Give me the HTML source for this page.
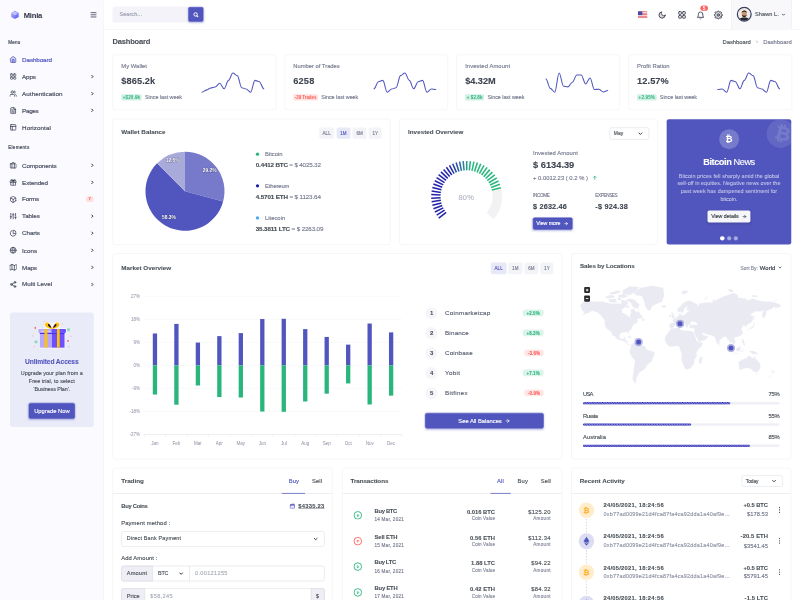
<!DOCTYPE html>
<html lang="en"><head><meta charset="utf-8"><title>Dashboard | Minia - Admin &amp; Dashboard Template</title>
<style>
html,body{margin:0;padding:0;background:#fff;overflow:hidden;width:800px;height:600px}
body{font-family:"Liberation Sans",sans-serif;color:#495057}
#app{position:absolute;left:0;top:0;width:1920px;height:1440px;transform:scale(.4166667);transform-origin:0 0;overflow:hidden;background:#fff}
.b{position:absolute;display:block}
.t{position:absolute;white-space:nowrap;letter-spacing:.2px;-webkit-text-stroke:.3px currentColor}
.sh{box-shadow:0 2px 5px 0 rgba(81,86,190,.38)}
</style></head><body><div id="app">
<div class="b" style="left:0px;top:0px;width:249.36px;height:1440px;background:#fbfaff;border-right:1px solid #e9e9ef;box-sizing:border-box"></div>
<svg class="b" style="left:25.2px;top:25.2px;" width="21.6" height="21.84" viewBox="0 0 24 24">
<defs><linearGradient id="lg" x1="0" y1="0" x2="1" y2="1"><stop offset="0" stop-color="#b7b9ff"/><stop offset="1" stop-color="#5255f4"/></linearGradient></defs>
<polygon points="12,1 22,6.5 22,17.5 12,23 2,17.5 2,6.5" fill="url(#lg)"/>
<polygon points="12,3.2 20,7.600 12,12.5 4,7.600" fill="#cfd0ff" opacity=".85"/>
</svg>
<div class="t" style="top:24.14px;left:57px;font-size:18.24px;line-height:23.71px;color:#2c3142;font-weight:700;-webkit-text-stroke:.22px currentColor;letter-spacing:-0.491px;-webkit-text-stroke:0;">Minia</div>
<svg class="b" style="left:216.96px;top:27.84px;" width="14.88" height="14.88" viewBox="0 0 6.200 6.200"><g stroke="#555b6d" stroke-width="0.95"><line x1="0" y1="1" x2="6.2" y2="1"/><line x1="0" y1="3.15" x2="6.2" y2="3.15"/><line x1="0" y1="5.3" x2="6.2" y2="5.3"/></g></svg>
<div class="t" style="top:93.62px;left:19.8px;font-size:11.04px;line-height:14.35px;color:#444a5c;letter-spacing:0.476px;-webkit-text-stroke:.4px currentColor;">Menu</div>
<div class="t" style="top:347.30px;left:19.8px;font-size:11.04px;line-height:14.35px;color:#444a5c;letter-spacing:0.607px;-webkit-text-stroke:.4px currentColor;">Elements</div>
<svg class="b" style="left:22.56px;top:134.16px" width="17.28" height="17.28" viewBox="0 0 24 24" fill="#5156be" fill-opacity=".2" stroke="#5156be" stroke-width="2.6" stroke-linecap="round" stroke-linejoin="round"><path d="M3 9l9-7 9 7v11a2 2 0 0 1-2 2H5a2 2 0 0 1-2-2z"/><polyline points="9 22 9 12 15 12 15 22"/></svg>
<div class="t" style="top:132.81px;left:53.04px;font-size:15.00px;line-height:19.50px;color:#5156be;letter-spacing:-0.207px;-webkit-text-stroke:.45px currentColor;">Dashboard</div>
<svg class="b" style="left:22.56px;top:174.96px" width="17.28" height="17.28" viewBox="0 0 24 24" fill="none" fill-opacity=".2" stroke="#3f4556" stroke-width="2.6" stroke-linecap="round" stroke-linejoin="round"><rect x="3" y="3" width="7.6" height="7.6" rx="2.2"/><rect x="13.4" y="3" width="7.6" height="7.6" rx="2.2"/><rect x="13.4" y="13.4" width="7.6" height="7.6" rx="2.2"/><rect x="3" y="13.4" width="7.6" height="7.6" rx="2.2"/></svg>
<div class="t" style="top:173.61px;left:53.04px;font-size:15.00px;line-height:19.50px;color:#4a5062;letter-spacing:-0.388px;-webkit-text-stroke:.45px currentColor;">Apps</div>
<svg class="b" style="left:216px;top:177.84px" width="11.52" height="11.52" viewBox="0 0 24 24" fill="none" fill-opacity=".2" stroke="#2f3442" stroke-width="5" stroke-linecap="round" stroke-linejoin="round"><polyline points="9 18 15 12 9 6"/></svg>
<svg class="b" style="left:22.56px;top:216px" width="17.28" height="17.28" viewBox="0 0 24 24" fill="none" fill-opacity=".2" stroke="#3f4556" stroke-width="2.6" stroke-linecap="round" stroke-linejoin="round"><path d="M17 21v-2a4 4 0 0 0-4-4H5a4 4 0 0 0-4 4v2"/><circle cx="9" cy="7" r="4"/><path d="M23 21v-2a4 4 0 0 0-3-3.87"/><path d="M16 3.13a4 4 0 0 1 0 7.75"/></svg>
<div class="t" style="top:214.65px;left:53.04px;font-size:15.00px;line-height:19.50px;color:#4a5062;letter-spacing:0.152px;-webkit-text-stroke:.45px currentColor;">Authentication</div>
<svg class="b" style="left:216px;top:218.88px" width="11.52" height="11.52" viewBox="0 0 24 24" fill="none" fill-opacity=".2" stroke="#2f3442" stroke-width="5" stroke-linecap="round" stroke-linejoin="round"><polyline points="9 18 15 12 9 6"/></svg>
<svg class="b" style="left:22.56px;top:256.56px" width="17.28" height="17.28" viewBox="0 0 24 24" fill="none" fill-opacity=".2" stroke="#3f4556" stroke-width="2.6" stroke-linecap="round" stroke-linejoin="round"><path d="M14 2H6a2 2 0 0 0-2 2v16a2 2 0 0 0 2 2h12a2 2 0 0 0 2-2V8z"/><polyline points="14 2 14 8 20 8"/><line x1="16" y1="13" x2="8" y2="13"/><line x1="16" y1="17" x2="8" y2="17"/><polyline points="10 9 9 9 8 9"/></svg>
<div class="t" style="top:255.21px;left:53.04px;font-size:15.00px;line-height:19.50px;color:#4a5062;letter-spacing:-0.731px;-webkit-text-stroke:.45px currentColor;">Pages</div>
<svg class="b" style="left:216px;top:259.44px" width="11.52" height="11.52" viewBox="0 0 24 24" fill="none" fill-opacity=".2" stroke="#2f3442" stroke-width="5" stroke-linecap="round" stroke-linejoin="round"><polyline points="9 18 15 12 9 6"/></svg>
<svg class="b" style="left:22.56px;top:297.36px" width="17.28" height="17.28" viewBox="0 0 24 24" fill="none" fill-opacity=".2" stroke="#3f4556" stroke-width="2.6" stroke-linecap="round" stroke-linejoin="round"><rect x="3" y="3" width="18" height="18" rx="2" ry="2"/><line x1="3" y1="9" x2="21" y2="9"/><line x1="9" y1="21" x2="9" y2="9"/></svg>
<div class="t" style="top:296.01px;left:53.04px;font-size:15.00px;line-height:19.50px;color:#4a5062;letter-spacing:0.159px;-webkit-text-stroke:.45px currentColor;">Horizontal</div>
<svg class="b" style="left:22.56px;top:388.32px" width="17.28" height="17.28" viewBox="0 0 24 24" fill="none" fill-opacity=".2" stroke="#3f4556" stroke-width="2.6" stroke-linecap="round" stroke-linejoin="round"><rect x="2" y="7" width="20" height="14" rx="2" ry="2"/><path d="M16 21V5a2 2 0 0 0-2-2h-4a2 2 0 0 0-2 2v16"/></svg>
<div class="t" style="top:386.97px;left:53.04px;font-size:15.00px;line-height:19.50px;color:#4a5062;letter-spacing:-0.225px;-webkit-text-stroke:.45px currentColor;">Components</div>
<svg class="b" style="left:216px;top:391.2px" width="11.52" height="11.52" viewBox="0 0 24 24" fill="none" fill-opacity=".2" stroke="#2f3442" stroke-width="5" stroke-linecap="round" stroke-linejoin="round"><polyline points="9 18 15 12 9 6"/></svg>
<svg class="b" style="left:22.56px;top:429.12px" width="17.28" height="17.28" viewBox="0 0 24 24" fill="none" fill-opacity=".2" stroke="#3f4556" stroke-width="2.6" stroke-linecap="round" stroke-linejoin="round"><polyline points="20 12 20 22 4 22 4 12"/><rect x="2" y="7" width="20" height="5"/><line x1="12" y1="22" x2="12" y2="7"/><path d="M12 7H7.5a2.5 2.5 0 0 1 0-5C11 2 12 7 12 7z"/><path d="M12 7h4.5a2.5 2.5 0 0 0 0-5C13 2 12 7 12 7z"/></svg>
<div class="t" style="top:427.77px;left:53.04px;font-size:15.00px;line-height:19.50px;color:#4a5062;letter-spacing:-0.183px;-webkit-text-stroke:.45px currentColor;">Extended</div>
<svg class="b" style="left:216px;top:432px" width="11.52" height="11.52" viewBox="0 0 24 24" fill="none" fill-opacity=".2" stroke="#2f3442" stroke-width="5" stroke-linecap="round" stroke-linejoin="round"><polyline points="9 18 15 12 9 6"/></svg>
<svg class="b" style="left:22.56px;top:469.68px" width="17.28" height="17.28" viewBox="0 0 24 24" fill="none" fill-opacity=".2" stroke="#3f4556" stroke-width="2.6" stroke-linecap="round" stroke-linejoin="round"><path d="M21 16V8a2 2 0 0 0-1-1.73l-7-4a2 2 0 0 0-2 0l-7 4A2 2 0 0 0 3 8v8a2 2 0 0 0 1 1.73l7 4a2 2 0 0 0 2 0l7-4A2 2 0 0 0 21 16z"/><polyline points="3.27 6.96 12 12.01 20.73 6.96"/><line x1="12" y1="22.08" x2="12" y2="12"/></svg>
<div class="t" style="top:468.33px;left:53.04px;font-size:15.00px;line-height:19.50px;color:#4a5062;letter-spacing:-0.435px;-webkit-text-stroke:.45px currentColor;">Forms</div>
<div class="b" style="left:205.92px;top:471.36px;width:19.2px;height:13.92px;background:#ffe0df;border-radius:20px"></div>
<div class="t" style="top:471.46px;left:215.52px;transform:translateX(-50%);font-size:10.56px;line-height:13.73px;color:#fd625e;font-weight:700;-webkit-text-stroke:.22px currentColor;">7</div>
<svg class="b" style="left:22.56px;top:510.48px" width="17.28" height="17.28" viewBox="0 0 24 24" fill="none" fill-opacity=".2" stroke="#3f4556" stroke-width="2.6" stroke-linecap="round" stroke-linejoin="round"><line x1="4" y1="21" x2="4" y2="14"/><line x1="4" y1="10" x2="4" y2="3"/><line x1="12" y1="21" x2="12" y2="12"/><line x1="12" y1="8" x2="12" y2="3"/><line x1="20" y1="21" x2="20" y2="16"/><line x1="20" y1="12" x2="20" y2="3"/><line x1="1" y1="14" x2="7" y2="14"/><line x1="9" y1="8" x2="15" y2="8"/><line x1="17" y1="16" x2="23" y2="16"/></svg>
<div class="t" style="top:509.13px;left:53.04px;font-size:15.00px;line-height:19.50px;color:#4a5062;letter-spacing:-0.187px;-webkit-text-stroke:.45px currentColor;">Tables</div>
<svg class="b" style="left:216px;top:513.36px" width="11.52" height="11.52" viewBox="0 0 24 24" fill="none" fill-opacity=".2" stroke="#2f3442" stroke-width="5" stroke-linecap="round" stroke-linejoin="round"><polyline points="9 18 15 12 9 6"/></svg>
<svg class="b" style="left:22.56px;top:551.28px" width="17.28" height="17.28" viewBox="0 0 24 24" fill="none" fill-opacity=".2" stroke="#3f4556" stroke-width="2.6" stroke-linecap="round" stroke-linejoin="round"><path d="M21.21 15.89A10 10 0 1 1 8 2.83"/><path d="M22 12A10 10 0 0 0 12 2v10z"/></svg>
<div class="t" style="top:549.93px;left:53.04px;font-size:15.00px;line-height:19.50px;color:#4a5062;letter-spacing:-0.243px;-webkit-text-stroke:.45px currentColor;">Charts</div>
<svg class="b" style="left:216px;top:554.16px" width="11.52" height="11.52" viewBox="0 0 24 24" fill="none" fill-opacity=".2" stroke="#2f3442" stroke-width="5" stroke-linecap="round" stroke-linejoin="round"><polyline points="9 18 15 12 9 6"/></svg>
<svg class="b" style="left:22.56px;top:592.08px" width="17.28" height="17.28" viewBox="0 0 24 24" fill="none" fill-opacity=".2" stroke="#3f4556" stroke-width="2.6" stroke-linecap="round" stroke-linejoin="round"><circle cx="12" cy="12" r="10"/><line x1="2" y1="12" x2="22" y2="12"/><path d="M12 2a15.3 15.3 0 0 1 4 10 15.3 15.3 0 0 1-4 10 15.3 15.3 0 0 1-4-10 15.3 15.3 0 0 1 4-10z"/></svg>
<div class="t" style="top:590.73px;left:53.04px;font-size:15.00px;line-height:19.50px;color:#4a5062;letter-spacing:0.030px;-webkit-text-stroke:.45px currentColor;">Icons</div>
<svg class="b" style="left:216px;top:594.96px" width="11.52" height="11.52" viewBox="0 0 24 24" fill="none" fill-opacity=".2" stroke="#2f3442" stroke-width="5" stroke-linecap="round" stroke-linejoin="round"><polyline points="9 18 15 12 9 6"/></svg>
<svg class="b" style="left:22.56px;top:632.88px" width="17.28" height="17.28" viewBox="0 0 24 24" fill="none" fill-opacity=".2" stroke="#3f4556" stroke-width="2.6" stroke-linecap="round" stroke-linejoin="round"><polygon points="1 6 1 22 8 18 16 22 23 18 23 2 16 6 8 2 1 6"/><line x1="8" y1="2" x2="8" y2="18"/><line x1="16" y1="6" x2="16" y2="22"/></svg>
<div class="t" style="top:631.53px;left:53.04px;font-size:15.00px;line-height:19.50px;color:#4a5062;letter-spacing:-0.410px;-webkit-text-stroke:.45px currentColor;">Maps</div>
<svg class="b" style="left:216px;top:635.76px" width="11.52" height="11.52" viewBox="0 0 24 24" fill="none" fill-opacity=".2" stroke="#2f3442" stroke-width="5" stroke-linecap="round" stroke-linejoin="round"><polyline points="9 18 15 12 9 6"/></svg>
<svg class="b" style="left:22.56px;top:673.68px" width="17.28" height="17.28" viewBox="0 0 24 24" fill="none" fill-opacity=".2" stroke="#3f4556" stroke-width="2.6" stroke-linecap="round" stroke-linejoin="round"><circle cx="18" cy="5" r="3"/><circle cx="6" cy="12" r="3"/><circle cx="18" cy="19" r="3"/><line x1="8.59" y1="13.51" x2="15.42" y2="17.49"/><line x1="15.41" y1="6.51" x2="8.59" y2="10.49"/></svg>
<div class="t" style="top:672.33px;left:53.04px;font-size:15.00px;line-height:19.50px;color:#4a5062;letter-spacing:0.027px;-webkit-text-stroke:.45px currentColor;">Multi Level</div>
<svg class="b" style="left:216px;top:676.56px" width="11.52" height="11.52" viewBox="0 0 24 24" fill="none" fill-opacity=".2" stroke="#2f3442" stroke-width="5" stroke-linecap="round" stroke-linejoin="round"><polyline points="9 18 15 12 9 6"/></svg>
<div class="b" style="left:24px;top:750px;width:201px;height:274.8px;background:#eaebf8;border-radius:6px"></div>
<svg class="b" style="left:60px;top:756px;" width="132" height="96" viewBox="0 0 800 582">
<g fill="#f7f6ff" stroke="#f7f6ff" stroke-width="22" stroke-linejoin="round"><rect x="195" y="205" width="400" height="55"/><rect x="215" y="255" width="360" height="220"/><ellipse cx="340" cy="150" rx="48" ry="42"/><ellipse cx="455" cy="150" rx="48" ry="42"/></g>
<circle cx="150" cy="188" r="13" fill="#f25c66"/><circle cx="625" cy="378" r="13" fill="#f25c66"/>
<circle cx="160" cy="390" r="24" fill="#8edcb9"/><circle cx="632" cy="213" r="24" fill="#8edcb9"/>
<g fill="#f6b8c0"><circle cx="280" cy="93" r="9"/><circle cx="540" cy="130" r="11"/><circle cx="115" cy="305" r="11"/><circle cx="672" cy="310" r="10"/><circle cx="130" cy="463" r="11"/><circle cx="638" cy="462" r="11"/></g>
<rect x="215" y="255" width="175" height="220" fill="#b7a8fc"/>
<rect x="390" y="255" width="185" height="220" fill="#6d4fff"/>
<rect x="215" y="258" width="360" height="18" fill="#4a2df2"/>
<rect x="195" y="205" width="190" height="55" rx="6" fill="#b3a4fb"/>
<rect x="385" y="205" width="210" height="55" rx="6" fill="#6a4dff"/>
<rect x="225" y="225" width="150" height="22" fill="#cfc6fd"/>
<rect x="285" y="205" width="40" height="270" fill="#ffc400"/>
<rect x="465" y="205" width="40" height="270" fill="#ffc400"/>
<path d="M395 205 C330 190 280 170 292 130 C305 92 365 100 395 205 Z M395 205 C460 190 510 170 498 130 C485 92 425 100 395 205 Z" fill="#ffc400"/>
<path d="M385 190 C350 170 325 150 335 133 C350 118 372 150 385 190 Z M407 190 C442 170 467 150 457 133 C442 118 420 150 407 190 Z" fill="#1a1446"/>
</svg>
<div class="t" style="top:858.35px;left:124.32px;transform:translateX(-50%);font-size:16.08px;line-height:20.90px;color:#5156be;font-weight:700;-webkit-text-stroke:.22px currentColor;letter-spacing:-0.316px;">Unlimited Access</div>
<div class="t" style="top:888.18px;left:124.32px;transform:translateX(-50%);font-size:13.01px;line-height:16.91px;color:#4a4f5c;letter-spacing:0.054px;">Upgrade your plan from a</div>
<div class="t" style="top:907.14px;left:124.32px;transform:translateX(-50%);font-size:13.01px;line-height:16.91px;color:#4a4f5c;letter-spacing:0.162px;">Free trial, to select</div>
<div class="t" style="top:925.86px;left:124.32px;transform:translateX(-50%);font-size:13.01px;line-height:16.91px;color:#4a4f5c;letter-spacing:-0.189px;">‘Business Plan’.</div>
<div class="b sh" style="left:69px;top:967.2px;width:111px;height:37.8px;background:#5156be;border:1px solid #4448b6;box-sizing:border-box;border-radius:5px"></div>
<div class="t" style="top:977.07px;left:124.56px;transform:translateX(-50%);font-size:13.99px;line-height:18.19px;color:#fff;letter-spacing:-0.032px;">Upgrade Now</div>
<div class="b" style="left:249.36px;top:0px;width:1670.64px;height:71.16px;background:#fff;border-bottom:1px solid #e9e9ef;box-sizing:border-box"></div>
<div class="b" style="left:270px;top:16.2px;width:186px;height:37.44px;background:#f3f3f9;border-radius:5px"></div>
<div class="t" style="top:25.82px;left:286.8px;font-size:13.44px;line-height:17.47px;color:#9a9db0;letter-spacing:0.024px;">Search...</div>
<div class="b sh" style="left:451.92px;top:17.28px;width:36px;height:35.16px;background:#5156be;border:1px solid #4347b4;box-sizing:border-box;border-radius:4px"></div>
<svg class="b" style="left:462.72px;top:28.08px;" width="14.4" height="14.4" viewBox="0 0 6.000 6.000"><circle cx="2.7" cy="2.8" r="1.7" fill="none" stroke="#fff" stroke-width="1"/><line x1="4" y1="4.1" x2="5.1" y2="5.2" stroke="#fff" stroke-width="1.1" stroke-linecap="round"/></svg>
<svg class="b" style="left:1531.2px;top:27.12px;" width="23.04" height="16.56" viewBox="0 0 9.600 6.900">
<rect width="9.6" height="6.9" fill="#fff"/>
<g fill="#e0464f"><rect y="0" width="9.6" height="0.77"/><rect y="1.53" width="9.6" height="0.77"/><rect y="3.07" width="9.6" height="0.77"/><rect y="4.6" width="9.6" height="0.77"/><rect y="6.13" width="9.6" height="0.77"/></g>
<rect width="4.4" height="3.84" fill="#3f4fa8"/>
</svg>
<svg class="b" style="left:1578.72px;top:25.92px" width="20.16" height="20.16" viewBox="0 0 24 24" fill="#3f4453" fill-opacity=".2" stroke="#3f4453" stroke-width="2.6" stroke-linecap="round" stroke-linejoin="round"><path d="M21 12.79A9 9 0 1 1 11.21 3 7 7 0 0 0 21 12.79z"/></svg>
<svg class="b" style="left:1626px;top:25.2px" width="21.6" height="21.6" viewBox="0 0 24 24" fill="#3f4453" fill-opacity=".2" stroke="#3f4453" stroke-width="2.4" stroke-linecap="round" stroke-linejoin="round"><rect x="3" y="3" width="7.6" height="7.6" rx="2.2"/><rect x="13.4" y="3" width="7.6" height="7.6" rx="2.2"/><rect x="13.4" y="13.4" width="7.6" height="7.6" rx="2.2"/><rect x="3" y="13.4" width="7.6" height="7.6" rx="2.2"/></svg>
<svg class="b" style="left:1670.64px;top:26.64px" width="20.64" height="20.64" viewBox="0 0 24 24" fill="none" fill-opacity=".2" stroke="#3f4453" stroke-width="2.5" stroke-linecap="round" stroke-linejoin="round"><path d="M18 8A6 6 0 0 0 6 8c0 7-3 9-3 9h18s-3-2-3-9"/><path d="M13.73 21a2 2 0 0 1-3.46 0"/></svg>
<div class="b" style="left:1680.96px;top:12.96px;width:18.48px;height:12.96px;background:#fd625e;border-radius:20px"></div>
<div class="t" style="top:12.23px;left:1690.08px;transform:translateX(-50%);font-size:11.28px;line-height:14.66px;color:#fff;font-weight:700;-webkit-text-stroke:.22px currentColor;-webkit-text-stroke:0;">5</div>
<svg class="b" style="left:1713.36px;top:24.96px" width="22.08" height="22.08" viewBox="0 0 24 24" fill="#3f4453" fill-opacity=".2" stroke="#3f4453" stroke-width="2.4" stroke-linecap="round" stroke-linejoin="round"><circle cx="12" cy="12" r="3"/><path d="M19.4 15a1.65 1.65 0 0 0 .33 1.82l.06.06a2 2 0 0 1 0 2.83 2 2 0 0 1-2.83 0l-.06-.06a1.65 1.65 0 0 0-1.82-.33 1.65 1.65 0 0 0-1 1.51V21a2 2 0 0 1-2 2 2 2 0 0 1-2-2v-.09A1.65 1.65 0 0 0 9 19.4a1.65 1.65 0 0 0-1.82.33l-.06.06a2 2 0 0 1-2.83 0 2 2 0 0 1 0-2.83l.06-.06a1.65 1.65 0 0 0 .33-1.82 1.65 1.65 0 0 0-1.51-1H3a2 2 0 0 1-2-2 2 2 0 0 1 2-2h.09A1.65 1.65 0 0 0 4.6 9a1.65 1.65 0 0 0-.33-1.82l-.06-.06a2 2 0 0 1 0-2.83 2 2 0 0 1 2.83 0l.06.06a1.65 1.65 0 0 0 1.82.33H9a1.65 1.65 0 0 0 1-1.51V3a2 2 0 0 1 2-2 2 2 0 0 1 2 2v.09a1.65 1.65 0 0 0 1 1.51 1.65 1.65 0 0 0 1.82-.33l.06-.06a2 2 0 0 1 2.83 0 2 2 0 0 1 0 2.83l-.06.06a1.65 1.65 0 0 0-.33 1.82V9a1.65 1.65 0 0 0 1.51 1H21a2 2 0 0 1 2 2 2 2 0 0 1-2 2h-.09a1.65 1.65 0 0 0-1.51 1z"/></svg>
<div class="b" style="left:1754.88px;top:0px;width:145.92px;height:71.16px;background:#f8f8fb;border-left:1px solid #e9e9ef;border-right:1px solid #e9e9ef;box-sizing:border-box"></div>
<svg class="b" style="left:1766.88px;top:14.64px;" width="38.4" height="38.4" viewBox="0 0 16.000 16.000">
<defs><clipPath id="av"><circle cx="8" cy="8" r="6.5"/></clipPath></defs>
<circle cx="8" cy="8" r="7.9" fill="#fff"/>
<g clip-path="url(#av)"><rect width="16" height="16" fill="#f1ede4"/>
<path d="M2 16 C2.5 11.5 5.5 11.300 8 11.300 C10.5 11.300 13.5 11.5 14 16 Z" fill="#23262d"/>
<ellipse cx="8" cy="7.4" rx="2.5" ry="3.2" fill="#c9987c"/>
<path d="M5.3 6.800 C5.1 3.300 10.9 3.300 10.7 6.800 C10.2 5.2 5.800 5.2 5.3 6.800 Z" fill="#1f1a18"/>
<path d="M5.600 8.300 C5.800 11.800 10.200 11.800 10.4 8.300 C9.700 9.900 6.300 9.900 5.600 8.300 Z" fill="#2b211d"/></g>
<circle cx="8" cy="8" r="6.9" fill="none" stroke="#383d62" stroke-width="1.25"/>
</svg>
<div class="t" style="top:26.06px;left:1812px;font-size:13.44px;line-height:17.47px;color:#495057;letter-spacing:0.135px;">Shawn L.</div>
<svg class="b" style="left:1875.36px;top:29.76px" width="10.56" height="10.56" viewBox="0 0 24 24" fill="none" fill-opacity=".2" stroke="#3a3f4e" stroke-width="4.4" stroke-linecap="round" stroke-linejoin="round"><polyline points="6 9 12 15 18 9"/></svg>
<div class="t" style="top:89.10px;left:270px;font-size:18.00px;line-height:23.40px;color:#495057;font-weight:700;-webkit-text-stroke:.22px currentColor;letter-spacing:-0.420px;">Dashboard</div>
<div class="t" style="top:90.75px;left:1734px;font-size:13.99px;line-height:18.19px;color:#495057;letter-spacing:-0.059px;">Dashboard</div>
<svg class="b" style="left:1813.2px;top:96px" width="8.64" height="8.64" viewBox="0 0 24 24" fill="none" fill-opacity=".2" stroke="#74788d" stroke-width="3" stroke-linecap="round" stroke-linejoin="round"><polyline points="9 18 15 12 9 6"/></svg>
<div class="t" style="top:90.75px;left:1831.92px;font-size:13.99px;line-height:18.19px;color:#74788d;letter-spacing:-0.033px;">Dashboard</div>
<div class="b" style="left:270px;top:130.8px;width:392.64px;height:133.2px;background:#fff;border:1px solid #e9e9ef;border-radius:6px;box-sizing:border-box;"></div>
<div class="t" style="top:150.03px;left:291px;font-size:13.99px;line-height:18.19px;color:#74788d;letter-spacing:0.114px;">My Wallet</div>
<div class="t" style="top:179.81px;left:291px;font-size:22.08px;line-height:28.70px;color:#3d4350;font-weight:700;-webkit-text-stroke:.22px currentColor;letter-spacing:0.255px;">$865.2k</div>
<div class="b" style="left:291px;top:225.84px;width:49.2px;height:15.24px;background:#d4f0e5;border-radius:3px"></div>
<div class="t" style="top:226.50px;left:315.6px;transform:translateX(-50%);font-size:10.80px;line-height:14.04px;color:#2ab57d;font-weight:700;-webkit-text-stroke:.22px currentColor;letter-spacing:0.346px;-webkit-text-stroke:0;">+$20.9k</div>
<div class="t" style="top:224.86px;left:348.12px;font-size:12.96px;line-height:16.85px;color:#74788d;letter-spacing:-0.083px;">Since last week</div>
<svg class="b" style="left:0px;top:0px;" width="1920" height="288" viewBox="0 0 800.000 120.000"><path d="M202.00 92.20 C203.54 92.20 204.87 90.10 206.41 90.10 C207.96 90.10 209.28 87.99 210.83 87.99 C212.37 87.99 213.70 86.94 215.24 86.94 C216.79 86.94 218.11 83.26 219.66 83.26 C221.20 83.26 222.53 88.78 224.07 88.78 C225.62 88.78 226.94 80.36 228.49 80.36 C230.03 80.36 231.35 73.00 232.90 73.00 C234.44 73.00 235.77 75.63 237.31 75.63 C238.86 75.63 240.18 87.73 241.73 87.73 C243.27 87.73 244.60 89.04 246.14 89.04 C247.69 89.04 249.01 92.20 250.56 92.20 C252.10 92.20 253.43 80.36 254.97 80.36 C256.52 80.36 257.84 81.68 259.39 81.68 C260.93 81.68 262.25 88.78 263.80 88.78" fill="none" stroke="#5156be" stroke-width="1.05" stroke-linejoin="round" stroke-linecap="round"/></svg>
<div class="b" style="left:682.8px;top:130.8px;width:392.64px;height:133.2px;background:#fff;border:1px solid #e9e9ef;border-radius:6px;box-sizing:border-box;"></div>
<div class="t" style="top:150.03px;left:703.8px;font-size:13.99px;line-height:18.19px;color:#74788d;letter-spacing:-0.024px;">Number of Trades</div>
<div class="t" style="top:179.81px;left:703.8px;font-size:22.08px;line-height:28.70px;color:#3d4350;font-weight:700;-webkit-text-stroke:.22px currentColor;letter-spacing:0.440px;">6258</div>
<div class="b" style="left:703.8px;top:225.84px;width:59.28px;height:15.24px;background:#ffe0df;border-radius:3px"></div>
<div class="t" style="top:226.50px;left:733.44px;transform:translateX(-50%);font-size:10.80px;line-height:14.04px;color:#fd625e;font-weight:700;-webkit-text-stroke:.22px currentColor;letter-spacing:-0.159px;-webkit-text-stroke:0;">-29 Trades</div>
<div class="t" style="top:224.86px;left:771px;font-size:12.96px;line-height:16.85px;color:#74788d;letter-spacing:-0.083px;">Since last week</div>
<svg class="b" style="left:0px;top:0px;" width="1920" height="288" viewBox="0 0 800.000 120.000"><path d="M374.00 88.78 C375.55 88.78 376.87 81.68 378.41 81.68 C379.96 81.68 381.28 80.36 382.83 80.36 C384.37 80.36 385.70 92.20 387.24 92.20 C388.79 92.20 390.11 89.04 391.66 89.04 C393.20 89.04 394.53 87.73 396.07 87.73 C397.62 87.73 398.94 75.63 400.49 75.63 C402.03 75.63 403.35 73.00 404.90 73.00 C406.44 73.00 407.77 80.36 409.31 80.36 C410.86 80.36 412.18 88.78 413.73 88.78 C415.27 88.78 416.60 81.68 418.14 81.68 C419.69 81.68 421.01 80.36 422.56 80.36 C424.10 80.36 425.43 92.20 426.97 92.20 C428.52 92.20 429.84 89.04 431.39 89.04 C432.93 89.04 434.25 89.57 435.80 89.57" fill="none" stroke="#5156be" stroke-width="1.05" stroke-linejoin="round" stroke-linecap="round"/></svg>
<div class="b" style="left:1095.36px;top:130.8px;width:392.64px;height:133.2px;background:#fff;border:1px solid #e9e9ef;border-radius:6px;box-sizing:border-box;"></div>
<div class="t" style="top:150.03px;left:1116.36px;font-size:13.99px;line-height:18.19px;color:#74788d;letter-spacing:0.251px;">Invested Amount</div>
<div class="t" style="top:179.81px;left:1116.36px;font-size:22.08px;line-height:28.70px;color:#3d4350;font-weight:700;-webkit-text-stroke:.22px currentColor;letter-spacing:-0.075px;">$4.32M</div>
<div class="b" style="left:1116.36px;top:225.84px;width:45.6px;height:15.24px;background:#d4f0e5;border-radius:3px"></div>
<div class="t" style="top:226.50px;left:1139.16px;transform:translateX(-50%);font-size:10.80px;line-height:14.04px;color:#2ab57d;font-weight:700;-webkit-text-stroke:.22px currentColor;letter-spacing:0.261px;-webkit-text-stroke:0;">+ $2.8k</div>
<div class="t" style="top:224.86px;left:1169.88px;font-size:12.96px;line-height:16.85px;color:#74788d;letter-spacing:-0.083px;">Since last week</div>
<svg class="b" style="left:0px;top:0px;" width="1920" height="288" viewBox="0 0 800.000 120.000"><path d="M545.90 78.91 C547.44 78.91 548.77 88.36 550.31 88.36 C551.86 88.36 553.18 92.20 554.73 92.20 C556.27 92.20 557.60 73.00 559.14 73.00 C560.69 73.00 562.01 86.29 563.56 86.29 C565.10 86.29 566.43 86.88 567.97 86.88 C569.52 86.88 570.84 82.16 572.39 82.16 C573.93 82.16 575.25 75.07 576.80 75.07 C578.34 75.07 579.67 75.07 581.21 75.07 C582.76 75.07 584.08 83.93 585.63 83.93 C587.17 83.93 588.50 78.02 590.04 78.02 C591.59 78.02 592.91 89.54 594.46 89.54 C596.00 89.54 597.33 89.25 598.87 89.25 C600.42 89.25 601.74 91.90 603.29 91.90 C604.83 91.90 606.15 90.43 607.70 90.43" fill="none" stroke="#5156be" stroke-width="1.05" stroke-linejoin="round" stroke-linecap="round"/></svg>
<div class="b" style="left:1507.92px;top:130.8px;width:392.64px;height:133.2px;background:#fff;border:1px solid #e9e9ef;border-radius:6px;box-sizing:border-box;"></div>
<div class="t" style="top:150.03px;left:1528.92px;font-size:13.99px;line-height:18.19px;color:#74788d;letter-spacing:0.078px;">Profit Ration</div>
<div class="t" style="top:179.81px;left:1528.92px;font-size:22.08px;line-height:28.70px;color:#3d4350;font-weight:700;-webkit-text-stroke:.22px currentColor;letter-spacing:0.239px;">12.57%</div>
<div class="b" style="left:1528.92px;top:225.84px;width:46.8px;height:15.24px;background:#d4f0e5;border-radius:3px"></div>
<div class="t" style="top:226.50px;left:1552.32px;transform:translateX(-50%);font-size:10.80px;line-height:14.04px;color:#2ab57d;font-weight:700;-webkit-text-stroke:.22px currentColor;letter-spacing:0.405px;-webkit-text-stroke:0;">+2.95%</div>
<div class="t" style="top:224.86px;left:1583.64px;font-size:12.96px;line-height:16.85px;color:#74788d;letter-spacing:-0.083px;">Since last week</div>
<svg class="b" style="left:0px;top:0px;" width="1920" height="288" viewBox="0 0 800.000 120.000"><path d="M717.80 89.57 C719.34 89.57 720.67 89.04 722.21 89.04 C723.76 89.04 725.08 92.20 726.63 92.20 C728.17 92.20 729.50 80.36 731.04 80.36 C732.59 80.36 733.91 81.68 735.46 81.68 C737.00 81.68 738.33 88.78 739.87 88.78 C741.42 88.78 742.74 80.36 744.29 80.36 C745.83 80.36 747.15 73.00 748.70 73.00 C750.24 73.00 751.57 75.63 753.11 75.63 C754.66 75.63 755.98 87.73 757.53 87.73 C759.07 87.73 760.40 89.04 761.94 89.04 C763.49 89.04 764.81 92.20 766.36 92.20 C767.90 92.20 769.23 80.36 770.77 80.36 C772.32 80.36 773.64 81.68 775.19 81.68 C776.73 81.68 778.05 88.78 779.60 88.78" fill="none" stroke="#5156be" stroke-width="1.05" stroke-linejoin="round" stroke-linecap="round"/></svg>
<div class="b" style="left:270px;top:285px;width:667.2px;height:303px;background:#fff;border:1px solid #e9e9ef;border-radius:6px;box-sizing:border-box;"></div>
<div class="t" style="top:307.05px;left:291px;font-size:15.00px;line-height:19.50px;color:#495057;font-weight:700;-webkit-text-stroke:.22px currentColor;letter-spacing:0.072px;">Wallet Balance</div>
<div class="b" style="left:765.6px;top:306px;width:36.72px;height:27.12px;background:#f3f4f8;border-radius:4px"></div>
<div class="t" style="top:312.78px;left:783.96px;transform:translateX(-50%);font-size:10.80px;line-height:14.04px;color:#74788d;">ALL</div>
<div class="b" style="left:807.6px;top:306px;width:33.12px;height:27.12px;background:#e8e9f7;border-radius:4px"></div>
<div class="t" style="top:312.78px;left:824.16px;transform:translateX(-50%);font-size:10.80px;line-height:14.04px;color:#5156be;">1M</div>
<div class="b" style="left:846.48px;top:306px;width:33.84px;height:27.12px;background:#f3f4f8;border-radius:4px"></div>
<div class="t" style="top:312.78px;left:863.4px;transform:translateX(-50%);font-size:10.80px;line-height:14.04px;color:#74788d;">6M</div>
<div class="b" style="left:885.12px;top:306px;width:31.2px;height:27.12px;background:#f3f4f8;border-radius:4px"></div>
<div class="t" style="top:312.78px;left:900.72px;transform:translateX(-50%);font-size:10.80px;line-height:14.04px;color:#74788d;">1Y</div>
<svg class="b" style="left:0px;top:0px;" width="960" height="600" viewBox="0 0 400.000 250.000"><path d="M185.00 191.25 L185.00 151.75 A39.50 39.50 0 0 1 223.13 201.55 Z" fill="#777aca"/><path d="M185.00 191.25 L223.13 201.55 A39.50 39.50 0 1 1 157.07 163.32 Z" fill="#5156be"/><path d="M185.00 191.25 L157.07 163.32 A39.50 39.50 0 0 1 185.00 151.75 Z" fill="#a8aada"/><g font-family="Liberation Sans,sans-serif" font-weight="700" font-size="4.9" fill="#fff" text-anchor="middle" stroke="rgba(20,20,60,.55)" stroke-width=".55" paint-order="stroke" stroke-linejoin="round"><text x="172.6" y="162.3">12.5%</text><text x="209.6" y="171.8">29.2%</text><text x="168.9" y="218.8">58.3%</text></g></svg>
<div class="b" style="left:613.92px;top:366px;width:8.16px;height:8.16px;background:#2ab57d;border-radius:50%"></div>
<div class="t" style="top:360.99px;left:636px;font-size:13.99px;line-height:18.19px;color:#74788d;letter-spacing:0.035px;">Bitcoin</div>
<div class="t" style="top:385.29px;left:613.8px;font-size:15.00px;line-height:19.50px;color:#74788d;letter-spacing:-0.396px;"><b style="color:#495057">0.4412 BTC</b> = $ 4025.32</div>
<div class="b" style="left:613.92px;top:441.84px;width:8.16px;height:8.16px;background:#1f1fa3;border-radius:50%"></div>
<div class="t" style="top:436.83px;left:636px;font-size:13.99px;line-height:18.19px;color:#74788d;letter-spacing:-0.293px;">Ethereum</div>
<div class="t" style="top:463.05px;left:613.8px;font-size:15.00px;line-height:19.50px;color:#74788d;letter-spacing:-0.307px;"><b style="color:#495057">4.5701 ETH</b> = $ 1123.64</div>
<div class="b" style="left:613.92px;top:519.12px;width:8.16px;height:8.16px;background:#4ba6ef;border-radius:50%"></div>
<div class="t" style="top:514.11px;left:636px;font-size:13.99px;line-height:18.19px;color:#74788d;letter-spacing:0.031px;">Litecoin</div>
<div class="t" style="top:540.09px;left:613.8px;font-size:15.00px;line-height:19.50px;color:#74788d;letter-spacing:-0.318px;"><b style="color:#495057">35.3811 LTC</b> = $ 2263.09</div>
<div class="b" style="left:958.2px;top:285px;width:619.8px;height:303px;background:#fff;border:1px solid #e9e9ef;border-radius:6px;box-sizing:border-box;"></div>
<div class="t" style="top:307.05px;left:979.2px;font-size:15.00px;line-height:19.50px;color:#495057;font-weight:700;-webkit-text-stroke:.22px currentColor;letter-spacing:0.086px;">Invested Overview</div>
<div class="b" style="left:1462.8px;top:306px;width:95.52px;height:28.56px;background:#fff;border:1px solid #ced4da;border-radius:5px;box-sizing:border-box"></div>
<div class="t" style="top:312.76px;left:1473.12px;font-size:11.76px;line-height:15.29px;color:#495057;">May</div>
<svg class="b" style="left:1530.48px;top:313.68px" width="13.92" height="13.92" viewBox="0 0 24 24" fill="none" fill-opacity=".2" stroke="#2f343c" stroke-width="4" stroke-linecap="round" stroke-linejoin="round"><polyline points="6 9 12 15 18 9"/></svg>
<svg class="b" style="left:0px;top:0px;" width="1920" height="624" viewBox="0 0 800.000 260.000"><defs><linearGradient id="gg" gradientUnits="userSpaceOnUse" x1="431.2" y1="0" x2="502.0" y2="0"><stop offset="0" stop-color="#2222a8"/><stop offset="0.27" stop-color="#2527aa"/><stop offset="0.42" stop-color="#2c6fa0"/><stop offset="0.56" stop-color="#2ab881"/><stop offset="1" stop-color="#2ab57d"/></linearGradient></defs><path d="M496.68 190.18 A30.70 30.70 0 0 1 490.12 216.03" fill="none" stroke="#f2f2f4" stroke-width="9.40"/><g stroke="url(#gg)" stroke-width="1.55"><line x1="446.14" y1="212.34" x2="438.74" y2="218.13"/><line x1="444.61" y1="210.17" x2="436.66" y2="215.19"/><line x1="443.31" y1="207.87" x2="434.90" y2="212.05"/><line x1="442.26" y1="205.44" x2="433.46" y2="208.75"/><line x1="441.46" y1="202.92" x2="432.37" y2="205.31"/><line x1="440.91" y1="200.33" x2="431.63" y2="201.79"/><line x1="440.64" y1="197.70" x2="431.25" y2="198.20"/><line x1="440.63" y1="195.05" x2="431.24" y2="194.60"/><line x1="440.89" y1="192.42" x2="431.60" y2="191.02"/><line x1="441.42" y1="189.83" x2="432.31" y2="187.49"/><line x1="442.21" y1="187.30" x2="433.39" y2="184.05"/><line x1="443.25" y1="184.87" x2="434.81" y2="180.74"/><line x1="444.53" y1="182.55" x2="436.55" y2="177.58"/><line x1="446.04" y1="180.38" x2="438.61" y2="174.63"/><line x1="447.77" y1="178.38" x2="440.96" y2="171.89"/><line x1="449.69" y1="176.55" x2="443.57" y2="169.42"/><line x1="451.78" y1="174.94" x2="446.42" y2="167.21"/><line x1="454.03" y1="173.54" x2="449.48" y2="165.31"/><line x1="456.41" y1="172.38" x2="452.72" y2="163.73"/><line x1="458.89" y1="171.47" x2="456.10" y2="162.49"/><line x1="461.45" y1="170.81" x2="459.59" y2="161.60"/><line x1="464.07" y1="170.42" x2="463.16" y2="161.07"/><line x1="466.71" y1="170.30" x2="466.75" y2="160.90"/><line x1="469.36" y1="170.45" x2="470.35" y2="161.10"/><line x1="471.97" y1="170.86" x2="473.91" y2="161.66"/><line x1="474.53" y1="171.54" x2="477.39" y2="162.59"/><line x1="477.00" y1="172.47" x2="480.76" y2="163.86"/><line x1="479.37" y1="173.65" x2="483.99" y2="165.46"/><line x1="481.61" y1="175.07" x2="487.03" y2="167.39"/><line x1="483.69" y1="176.70" x2="489.86" y2="169.62"/><line x1="485.59" y1="178.54" x2="492.45" y2="172.12"/><line x1="487.30" y1="180.56" x2="494.78" y2="174.87"/><line x1="488.79" y1="182.75" x2="496.81" y2="177.85"/><line x1="490.05" y1="185.07" x2="498.53" y2="181.01"/><line x1="491.07" y1="187.51" x2="499.92" y2="184.34"/><line x1="491.84" y1="190.05" x2="500.96" y2="187.79"/></g></svg>
<div class="t" style="top:463.50px;left:1119.12px;transform:translateX(-50%);font-size:18.00px;line-height:23.40px;color:#b4b8c4;letter-spacing:0.631px;">80%</div>
<div class="t" style="top:358.83px;left:1279.2px;font-size:13.99px;line-height:18.19px;color:#74788d;letter-spacing:0.251px;">Invested Amount</div>
<div class="t" style="top:380.53px;left:1279.2px;font-size:22.32px;line-height:29.02px;color:#3d4350;font-weight:700;-webkit-text-stroke:.22px currentColor;letter-spacing:-0.020px;">$ 6134.39</div>
<div class="t" style="top:417.15px;left:1279.2px;font-size:13.99px;line-height:18.19px;color:#74788d;letter-spacing:0.044px;">+ 0.0012.23 ( 0.2 % )</div>
<svg class="b" style="left:1421.52px;top:419.76px;" width="11.04" height="13.44" viewBox="0 0 4.600 5.600"><path d="M2.3 4.3V1.2M1 2.5L2.3 1.2L3.600 2.5" fill="none" stroke="#2ab57d" stroke-width="0.75" stroke-linecap="round" stroke-linejoin="round"/></svg>
<div class="t" style="top:461.54px;left:1279.2px;font-size:11.04px;line-height:14.35px;color:#74788d;letter-spacing:-0.760px;">INCOME</div>
<div class="t" style="top:461.54px;left:1428.72px;font-size:11.04px;line-height:14.35px;color:#74788d;letter-spacing:-0.840px;">EXPENSES</div>
<div class="t" style="top:483.97px;left:1279.2px;font-size:17.52px;line-height:22.78px;color:#3d4350;font-weight:700;-webkit-text-stroke:.22px currentColor;letter-spacing:0.406px;">$ 2632.46</div>
<div class="t" style="top:483.97px;left:1428.72px;font-size:17.52px;line-height:22.78px;color:#3d4350;font-weight:700;-webkit-text-stroke:.22px currentColor;letter-spacing:0.521px;">-$ 924.38</div>
<div class="b sh" style="left:1278.96px;top:522.24px;width:94.56px;height:28.32px;background:#5156be;border:1px solid #4448b6;box-sizing:border-box;border-radius:4px"></div>
<div class="t" style="top:528.13px;left:1286.88px;font-size:12.72px;line-height:16.54px;color:#fff;letter-spacing:-0.171px;">View more</div>
<svg class="b" style="left:1352.64px;top:530.64px" width="11.52" height="11.52" viewBox="0 0 24 24" fill="none" fill-opacity=".2" stroke="#fff" stroke-width="3.3" stroke-linecap="round" stroke-linejoin="round"><line x1="5" y1="12" x2="19" y2="12"/><polyline points="12 5 19 12 12 19"/></svg>
<div class="b" style="left:1600.2px;top:286.2px;width:298.8px;height:300.6px;background:#5156be;border-radius:5px;overflow:hidden"><div class="b" style="left:240px;top:1.2px;width:67.2px;height:67.2px;border-radius:50%;background:rgba(255,255,255,.1)"></div><div class="t" style="left:259.8px;top:9.48px;font-size:45.6px;line-height:50.4px;font-weight:700;color:rgba(255,255,255,.13);transform:rotate(14deg)">₿</div></div>
<div class="b" style="left:1725.6px;top:309.6px;width:48px;height:48px;background:rgba(255,255,255,.22);border-radius:50%"></div>
<div class="t" style="top:320.66px;left:1749.72px;transform:translateX(-50%);font-size:20.64px;line-height:26.83px;color:#fff;font-weight:700;-webkit-text-stroke:.22px currentColor;font-family:"DejaVu Sans",sans-serif;">₿</div>
<div class="t" style="top:375.17px;left:1749.6px;transform:translateX(-50%);font-size:22.08px;line-height:28.70px;color:#fff;font-weight:700;-webkit-text-stroke:.22px currentColor;letter-spacing:-1.033px;">Bitcoin <span style="font-weight:400">News</span></div>
<div class="t" style="top:413.94px;left:1749.6px;transform:translateX(-50%);font-size:13.01px;line-height:16.91px;color:rgba(255,255,255,.6);letter-spacing:0.144px;-webkit-text-stroke:.15px currentColor;">Bitcoin prices fell sharply amid the global</div>
<div class="t" style="top:433.14px;left:1749.6px;transform:translateX(-50%);font-size:13.01px;line-height:16.91px;color:rgba(255,255,255,.6);letter-spacing:0.086px;-webkit-text-stroke:.15px currentColor;">sell-off in equities. Negative news over the</div>
<div class="t" style="top:451.86px;left:1749.6px;transform:translateX(-50%);font-size:13.01px;line-height:16.91px;color:rgba(255,255,255,.6);letter-spacing:0.126px;-webkit-text-stroke:.15px currentColor;">past week has dampened sentiment for</div>
<div class="t" style="top:470.10px;left:1749.6px;transform:translateX(-50%);font-size:13.01px;line-height:16.91px;color:rgba(255,255,255,.6);letter-spacing:-0.052px;-webkit-text-stroke:.15px currentColor;">bitcoin.</div>
<div class="b" style="left:1698px;top:505.2px;width:102.72px;height:28.8px;background:#f6f6fa;border-radius:4px;box-shadow:0 2px 6px rgba(0,0,0,.15)"></div>
<div class="t" style="top:511.57px;left:1706.88px;font-size:12.72px;line-height:16.54px;color:#343a40;letter-spacing:-0.137px;">View details</div>
<svg class="b" style="left:1780.56px;top:514.08px" width="11.52" height="11.52" viewBox="0 0 24 24" fill="none" fill-opacity=".2" stroke="#343a40" stroke-width="3.3" stroke-linecap="round" stroke-linejoin="round"><line x1="5" y1="12" x2="19" y2="12"/><polyline points="12 5 19 12 12 19"/></svg>
<div class="b" style="left:1728.48px;top:567.36px;width:10.08px;height:10.08px;background:rgba(255,255,255,1);border-radius:50%"></div>
<div class="b" style="left:1744.68px;top:567.36px;width:10.08px;height:10.08px;background:rgba(255,255,255,0.5);border-radius:50%"></div>
<div class="b" style="left:1760.88px;top:567.36px;width:10.08px;height:10.08px;background:rgba(255,255,255,0.5);border-radius:50%"></div>
<div class="b" style="left:270px;top:607.92px;width:1078.8px;height:493.68px;background:#fff;border:1px solid #e9e9ef;border-radius:6px;box-sizing:border-box;"></div>
<div class="t" style="top:632.25px;left:291px;font-size:15.00px;line-height:19.50px;color:#495057;font-weight:700;-webkit-text-stroke:.22px currentColor;letter-spacing:0.051px;">Market Overview</div>
<div class="b" style="left:1177.8px;top:630px;width:37.8px;height:27.6px;background:#e8e9f7;border-radius:4px"></div>
<div class="t" style="top:637.02px;left:1196.7px;transform:translateX(-50%);font-size:10.80px;line-height:14.04px;color:#5156be;">ALL</div>
<div class="b" style="left:1219.92px;top:630px;width:33.6px;height:27.6px;background:#f3f4f8;border-radius:4px"></div>
<div class="t" style="top:637.02px;left:1236.72px;transform:translateX(-50%);font-size:10.80px;line-height:14.04px;color:#74788d;">1M</div>
<div class="b" style="left:1258.8px;top:630px;width:33.12px;height:27.6px;background:#f3f4f8;border-radius:4px"></div>
<div class="t" style="top:637.02px;left:1275.36px;transform:translateX(-50%);font-size:10.80px;line-height:14.04px;color:#74788d;">6M</div>
<div class="b" style="left:1296.72px;top:630px;width:31.68px;height:27.6px;background:#f3f4f8;border-radius:4px"></div>
<div class="t" style="top:637.02px;left:1312.56px;transform:translateX(-50%);font-size:10.80px;line-height:14.04px;color:#74788d;">1Y</div>
<svg class="b" style="left:0px;top:0px;" width="1920" height="1128" viewBox="0 0 800.000 470.000"><g font-family="Liberation Sans,sans-serif"><line x1="144.5" y1="296.30" x2="402" y2="296.30" stroke="#f3f3f6" stroke-width="0.5"/><text x="140" y="297.70" text-anchor="end" font-size="4.5" fill="#8a8fa0">27%</text><line x1="144.5" y1="319.30" x2="402" y2="319.30" stroke="#f3f3f6" stroke-width="0.5"/><text x="140" y="320.70" text-anchor="end" font-size="4.5" fill="#8a8fa0">18%</text><line x1="144.5" y1="342.30" x2="402" y2="342.30" stroke="#f3f3f6" stroke-width="0.5"/><text x="140" y="343.70" text-anchor="end" font-size="4.5" fill="#8a8fa0">9%</text><line x1="144.5" y1="365.30" x2="402" y2="365.30" stroke="#f3f3f6" stroke-width="0.5"/><text x="140" y="366.70" text-anchor="end" font-size="4.5" fill="#8a8fa0">0%</text><line x1="144.5" y1="388.30" x2="402" y2="388.30" stroke="#f3f3f6" stroke-width="0.5"/><text x="140" y="389.70" text-anchor="end" font-size="4.5" fill="#8a8fa0">-9%</text><line x1="144.5" y1="411.30" x2="402" y2="411.30" stroke="#f3f3f6" stroke-width="0.5"/><text x="140" y="412.70" text-anchor="end" font-size="4.5" fill="#8a8fa0">-18%</text><text x="140" y="435.70" text-anchor="end" font-size="4.5" fill="#8a8fa0">-27%</text><line x1="144.3" y1="434.4" x2="402" y2="434.4" stroke="#dcdde6" stroke-width="0.5"/><line x1="144.30" y1="434.4" x2="144.30" y2="436.6" stroke="#dcdde6" stroke-width="0.5"/><line x1="165.77" y1="434.4" x2="165.77" y2="436.6" stroke="#dcdde6" stroke-width="0.5"/><line x1="187.24" y1="434.4" x2="187.24" y2="436.6" stroke="#dcdde6" stroke-width="0.5"/><line x1="208.71" y1="434.4" x2="208.71" y2="436.6" stroke="#dcdde6" stroke-width="0.5"/><line x1="230.18" y1="434.4" x2="230.18" y2="436.6" stroke="#dcdde6" stroke-width="0.5"/><line x1="251.65" y1="434.4" x2="251.65" y2="436.6" stroke="#dcdde6" stroke-width="0.5"/><line x1="273.12" y1="434.4" x2="273.12" y2="436.6" stroke="#dcdde6" stroke-width="0.5"/><line x1="294.59" y1="434.4" x2="294.59" y2="436.6" stroke="#dcdde6" stroke-width="0.5"/><line x1="316.06" y1="434.4" x2="316.06" y2="436.6" stroke="#dcdde6" stroke-width="0.5"/><line x1="337.53" y1="434.4" x2="337.53" y2="436.6" stroke="#dcdde6" stroke-width="0.5"/><line x1="359.00" y1="434.4" x2="359.00" y2="436.6" stroke="#dcdde6" stroke-width="0.5"/><line x1="380.47" y1="434.4" x2="380.47" y2="436.6" stroke="#dcdde6" stroke-width="0.5"/><line x1="401.94" y1="434.4" x2="401.94" y2="436.6" stroke="#dcdde6" stroke-width="0.5"/><rect x="152.80" y="333.48" width="4.3" height="31.82" fill="#5156be"/><rect x="152.80" y="365.30" width="4.3" height="29.26" fill="#2ab57d"/><text x="154.95" y="444.9" text-anchor="middle" font-size="4.5" fill="#8a8fa0">Jan</text><rect x="174.27" y="323.90" width="4.3" height="41.40" fill="#5156be"/><rect x="174.27" y="365.30" width="4.3" height="39.41" fill="#2ab57d"/><text x="176.42" y="444.9" text-anchor="middle" font-size="4.5" fill="#8a8fa0">Feb</text><rect x="195.74" y="342.56" width="4.3" height="22.74" fill="#5156be"/><rect x="195.74" y="365.30" width="4.3" height="20.19" fill="#2ab57d"/><text x="197.89" y="444.9" text-anchor="middle" font-size="4.5" fill="#8a8fa0">Mar</text><rect x="217.21" y="336.12" width="4.3" height="29.18" fill="#5156be"/><rect x="217.21" y="365.30" width="4.3" height="31.74" fill="#2ab57d"/><text x="219.36" y="444.9" text-anchor="middle" font-size="4.5" fill="#8a8fa0">Apr</text><rect x="238.68" y="333.10" width="4.3" height="32.20" fill="#5156be"/><rect x="238.68" y="365.30" width="4.3" height="32.20" fill="#2ab57d"/><text x="240.83" y="444.9" text-anchor="middle" font-size="4.5" fill="#8a8fa0">May</text><rect x="260.15" y="319.04" width="4.3" height="46.26" fill="#5156be"/><rect x="260.15" y="365.30" width="4.3" height="46.26" fill="#2ab57d"/><text x="262.30" y="444.9" text-anchor="middle" font-size="4.5" fill="#8a8fa0">Jun</text><rect x="281.62" y="318.79" width="4.3" height="46.51" fill="#5156be"/><rect x="281.62" y="365.30" width="4.3" height="46.51" fill="#2ab57d"/><text x="283.77" y="444.9" text-anchor="middle" font-size="4.5" fill="#8a8fa0">Jul</text><rect x="303.09" y="329.11" width="4.3" height="36.19" fill="#5156be"/><rect x="303.09" y="365.30" width="4.3" height="36.19" fill="#2ab57d"/><text x="305.24" y="444.9" text-anchor="middle" font-size="4.5" fill="#8a8fa0">Aug</text><rect x="324.56" y="336.93" width="4.3" height="28.37" fill="#5156be"/><rect x="324.56" y="365.30" width="4.3" height="28.37" fill="#2ab57d"/><text x="326.71" y="444.9" text-anchor="middle" font-size="4.5" fill="#8a8fa0">Sep</text><rect x="346.03" y="344.63" width="4.3" height="20.67" fill="#5156be"/><rect x="346.03" y="365.30" width="4.3" height="18.12" fill="#2ab57d"/><text x="348.18" y="444.9" text-anchor="middle" font-size="4.5" fill="#8a8fa0">Oct</text><rect x="367.50" y="323.54" width="4.3" height="41.76" fill="#5156be"/><rect x="367.50" y="365.30" width="4.3" height="39.20" fill="#2ab57d"/><text x="369.65" y="444.9" text-anchor="middle" font-size="4.5" fill="#8a8fa0">Nov</text><rect x="388.97" y="332.38" width="4.3" height="32.92" fill="#5156be"/><rect x="388.97" y="365.30" width="4.3" height="30.36" fill="#2ab57d"/><text x="391.12" y="444.9" text-anchor="middle" font-size="4.5" fill="#8a8fa0">Dec</text></g></svg>
<div class="b" style="left:1021.2px;top:736.8px;width:28.8px;height:28.8px;background:#f6f6fa;border-radius:50%"></div>
<div class="t" style="top:742.08px;left:1035.84px;transform:translateX(-50%);font-size:14.40px;line-height:18.72px;color:#495057;font-weight:700;-webkit-text-stroke:.22px currentColor;">1</div>
<div class="t" style="top:741.45px;left:1068px;font-size:15.00px;line-height:19.50px;color:#565c6e;letter-spacing:0.658px;">Coinmarketcap</div>
<div class="b" style="left:1254px;top:743.04px;width:51.12px;height:16.32px;background:#dcf4ea;border-radius:20px"></div>
<div class="t" style="top:744.30px;left:1279.56px;transform:translateX(-50%);font-size:10.80px;line-height:14.04px;color:#2ab57d;font-weight:700;-webkit-text-stroke:.22px currentColor;">+2.5%</div>
<div class="b" style="left:1021.2px;top:784.8px;width:28.8px;height:28.8px;background:#f6f6fa;border-radius:50%"></div>
<div class="t" style="top:790.08px;left:1035.84px;transform:translateX(-50%);font-size:14.40px;line-height:18.72px;color:#495057;font-weight:700;-webkit-text-stroke:.22px currentColor;">2</div>
<div class="t" style="top:789.45px;left:1068px;font-size:15.00px;line-height:19.50px;color:#565c6e;letter-spacing:0.484px;">Binance</div>
<div class="b" style="left:1254px;top:791.04px;width:51.12px;height:16.32px;background:#dcf4ea;border-radius:20px"></div>
<div class="t" style="top:792.30px;left:1279.56px;transform:translateX(-50%);font-size:10.80px;line-height:14.04px;color:#2ab57d;font-weight:700;-webkit-text-stroke:.22px currentColor;">+8.3%</div>
<div class="b" style="left:1021.2px;top:832.8px;width:28.8px;height:28.8px;background:#f6f6fa;border-radius:50%"></div>
<div class="t" style="top:838.08px;left:1035.84px;transform:translateX(-50%);font-size:14.40px;line-height:18.72px;color:#495057;font-weight:700;-webkit-text-stroke:.22px currentColor;">3</div>
<div class="t" style="top:837.45px;left:1068px;font-size:15.00px;line-height:19.50px;color:#565c6e;letter-spacing:0.418px;">Coinbase</div>
<div class="b" style="left:1258.08px;top:839.04px;width:47.04px;height:16.32px;background:#ffe5e4;border-radius:20px"></div>
<div class="t" style="top:840.30px;left:1281.6px;transform:translateX(-50%);font-size:10.80px;line-height:14.04px;color:#fd625e;font-weight:700;-webkit-text-stroke:.22px currentColor;">-3.6%</div>
<div class="b" style="left:1021.2px;top:880.8px;width:28.8px;height:28.8px;background:#f6f6fa;border-radius:50%"></div>
<div class="t" style="top:886.08px;left:1035.84px;transform:translateX(-50%);font-size:14.40px;line-height:18.72px;color:#495057;font-weight:700;-webkit-text-stroke:.22px currentColor;">4</div>
<div class="t" style="top:885.45px;left:1068px;font-size:15.00px;line-height:19.50px;color:#565c6e;letter-spacing:0.733px;">Yobit</div>
<div class="b" style="left:1254px;top:887.04px;width:51.12px;height:16.32px;background:#dcf4ea;border-radius:20px"></div>
<div class="t" style="top:888.30px;left:1279.56px;transform:translateX(-50%);font-size:10.80px;line-height:14.04px;color:#2ab57d;font-weight:700;-webkit-text-stroke:.22px currentColor;">+7.1%</div>
<div class="b" style="left:1021.2px;top:928.8px;width:28.8px;height:28.8px;background:#f6f6fa;border-radius:50%"></div>
<div class="t" style="top:934.08px;left:1035.84px;transform:translateX(-50%);font-size:14.40px;line-height:18.72px;color:#495057;font-weight:700;-webkit-text-stroke:.22px currentColor;">5</div>
<div class="t" style="top:933.45px;left:1068px;font-size:15.00px;line-height:19.50px;color:#565c6e;letter-spacing:0.751px;">Bitfinex</div>
<div class="b" style="left:1258.08px;top:935.04px;width:47.04px;height:16.32px;background:#ffe5e4;border-radius:20px"></div>
<div class="t" style="top:936.30px;left:1281.6px;transform:translateX(-50%);font-size:10.80px;line-height:14.04px;color:#fd625e;font-weight:700;-webkit-text-stroke:.22px currentColor;">-0.9%</div>
<div class="b sh" style="left:1020px;top:991.2px;width:285.12px;height:36.72px;background:#5156be;border:1px solid #4448b6;box-sizing:border-box;border-radius:5px"></div>
<div class="t" style="top:1000.83px;left:1099.92px;font-size:13.99px;line-height:18.19px;color:#fff;letter-spacing:-0.038px;">See All Balances</div>
<svg class="b" style="left:1211.76px;top:1003.68px" width="12.48" height="12.48" viewBox="0 0 24 24" fill="none" fill-opacity=".2" stroke="#fff" stroke-width="3.2" stroke-linecap="round" stroke-linejoin="round"><line x1="5" y1="12" x2="19" y2="12"/><polyline points="12 5 19 12 12 19"/></svg>
<div class="b" style="left:1370.88px;top:607.92px;width:528.12px;height:493.68px;background:#fff;border:1px solid #e9e9ef;border-radius:6px;box-sizing:border-box;"></div>
<div class="t" style="top:629.37px;left:1392px;font-size:15.00px;line-height:19.50px;color:#495057;font-weight:700;-webkit-text-stroke:.22px currentColor;letter-spacing:-0.282px;">Sales by Locations</div>
<div class="t" style="top:634.60px;left:1777.44px;font-size:11.76px;line-height:15.29px;color:#858a9c;letter-spacing:-0.068px;">Sort By:</div>
<div class="t" style="top:632.67px;left:1823.52px;font-size:13.99px;line-height:18.19px;color:#3d4350;letter-spacing:0.231px;-webkit-text-stroke:.5px currentColor;">World</div>
<svg class="b" style="left:1867.2px;top:637.44px" width="10.08" height="10.08" viewBox="0 0 24 24" fill="none" fill-opacity=".2" stroke="#3d4350" stroke-width="4.4" stroke-linecap="round" stroke-linejoin="round"><polyline points="6 9 12 15 18 9"/></svg>
<svg class="b" style="left:0px;top:0px;" width="1920" height="960" viewBox="0 0 800.000 400.000"><g fill="#eaebf2" stroke="#fff" stroke-width="0.15" stroke-linejoin="round"><polygon points="580.06,305.44 583.43,301.58 586.81,300.56 595.24,301.58 602.54,301.58 609.85,303.55 613.78,303.55 621.09,303.55 621.65,299.52 626.71,301.58 628.39,303.55 625.02,307.27 621.65,309.89 622.21,312.39 626.71,314.79 628.39,316.33 629.52,317.83 630.08,314.79 631.20,312.39 630.64,309.03 634.01,309.03 636.26,312.39 638.51,310.74 640.20,314.00 643.01,317.08 640.76,318.57 637.39,318.57 637.95,322.14 635.14,323.51 632.89,325.53 631.77,328.77 628.96,331.28 629.52,334.93 628.39,333.12 627.27,331.90 623.90,332.51 621.65,332.51 619.96,334.33 619.40,336.71 621.09,339.05 623.34,339.05 623.90,337.30 625.58,337.30 625.02,340.21 627.27,340.78 627.83,343.64 629.52,344.20 631.20,344.77 629.52,345.34 627.27,344.20 626.15,342.50 623.34,341.36 621.09,340.21 618.28,339.63 615.47,337.89 614.91,336.12 612.66,336.12 611.53,333.12 609.85,331.28 608.72,330.04 606.48,328.77 604.79,325.53 604.79,320.73 602.54,317.83 600.29,314.79 597.48,312.39 592.43,310.74 589.05,312.39 585.68,314.00 581.75,315.56 584.56,312.39 581.75,309.89 581.19,307.27"/><polygon points="629.52,298.46 634.01,299.52 639.63,304.50 637.95,309.03 632.89,307.27 630.64,302.57 625.02,300.56"/><polygon points="608.16,299.52 615.47,298.46 617.15,302.57 609.85,302.57"/><polygon points="604.23,297.38 609.29,295.13 613.78,295.13 614.91,297.38 608.16,298.46"/><polygon points="622.77,290.27 629.52,286.25 639.63,286.95 635.14,292.16 629.52,295.13 622.77,293.96"/><polygon points="633.45,292.77 640.76,287.63 652.00,285.54 663.24,287.63 664.36,295.13 662.11,301.58 657.62,303.55 652.00,306.36 650.31,310.74 647.50,309.89 645.25,306.36 644.13,301.58 641.88,296.27 636.26,295.13"/><polygon points="631.20,344.77 634.01,342.50 638.51,343.64 640.76,344.77 645.25,346.46 646.38,349.28 649.75,350.40 653.12,351.52 654.81,353.22 653.68,356.05 652.56,358.92 651.44,361.84 647.50,364.22 646.38,366.65 644.69,369.14 642.44,370.42 639.63,372.36 637.95,375.04 636.82,377.82 635.70,381.47 636.26,383.77 634.01,382.22 632.33,378.53 633.45,373.02 634.01,366.65 635.14,360.66 631.77,357.19 629.52,352.65 629.52,350.40 630.64,348.15"/><polygon points="664.92,340.78 664.92,337.30 667.17,333.73 669.42,330.66 671.11,328.13 674.48,328.13 680.10,327.49 680.66,330.04 685.72,330.66 688.53,330.66 692.46,331.28 693.59,333.12 695.27,336.71 696.40,340.21 698.64,342.50 703.14,342.50 701.45,346.46 698.08,349.84 696.40,352.65 696.96,356.05 694.71,359.50 694.15,363.02 692.46,366.04 690.21,368.52 685.72,369.78 684.59,367.89 682.91,364.22 681.22,358.92 681.78,354.91 681.22,352.09 679.54,349.28 679.54,347.03 677.29,345.90 672.79,346.46 669.98,347.03 667.17,344.77"/><polygon points="669.42,327.49 669.42,323.51 673.35,322.83 672.23,320.02 675.60,317.83 678.97,315.56 678.97,313.20 680.66,314.00 681.22,315.56 684.59,314.79 686.28,313.20 687.97,311.57 690.78,310.74 687.40,310.74 686.28,308.16 687.97,305.44 684.59,308.16 684.03,310.74 681.78,314.00 680.66,311.57 677.85,312.39 677.29,309.03 681.22,305.44 683.47,302.57 688.53,300.56 691.90,301.58 697.52,304.50 696.96,307.27 694.15,307.27 695.83,305.44 699.21,305.44 699.21,303.55 704.83,302.57 708.20,302.57 712.69,302.57 712.69,299.52 715.50,300.56 719.44,298.46 723.93,296.27 730.68,293.96 733.49,292.77 737.98,295.13 737.98,297.38 745.85,298.46 747.54,300.56 753.16,298.46 758.78,300.56 764.40,301.58 770.02,301.58 775.64,302.57 781.26,305.44 780.13,307.27 775.07,308.16 774.51,306.36 771.70,309.03 766.64,310.74 766.08,314.00 764.96,317.08 762.15,317.83 762.15,313.20 764.40,309.89 761.59,311.57 754.84,311.57 750.35,314.79 753.72,316.33 753.16,320.02 750.35,323.51 747.54,324.19 746.41,326.19 745.29,328.77 745.85,327.49 744.73,325.53 742.48,326.19 740.79,326.19 743.04,327.49 741.35,328.77 742.48,331.28 743.04,333.12 740.79,335.53 737.98,336.71 735.73,337.30 734.05,338.47 735.73,341.93 734.61,343.64 733.49,344.20 730.68,341.93 730.11,344.20 732.36,348.15 731.24,347.59 729.55,344.77 729.55,340.21 727.30,340.21 727.30,338.47 725.62,336.71 723.37,337.30 719.44,340.78 719.44,343.64 717.75,344.77 715.50,340.21 714.94,337.30 712.13,335.53 708.76,334.93 706.51,334.33 705.95,333.73 703.14,333.12 701.45,331.90 702.58,334.33 703.70,335.53 705.95,335.53 708.20,336.71 705.39,339.63 703.70,340.21 699.77,341.93 698.64,341.93 696.40,337.30 694.15,333.12 694.15,330.66 694.71,328.13 692.46,328.13 690.21,328.13 689.09,326.84 689.09,325.53 690.78,324.86 697.52,324.86 697.52,323.51 695.27,322.14 693.02,321.44 691.34,321.44 690.21,324.19 687.97,325.53 687.40,328.13 686.28,326.84 685.16,324.19 682.35,322.14 681.22,322.83 684.59,325.53 683.47,326.84 681.22,324.19 679.54,322.83 676.16,323.51 674.48,326.19 673.35,327.49 671.67,328.13"/><polygon points="671.67,318.57 675.04,317.83 674.48,316.33 673.35,314.00 672.79,312.39 671.11,312.39 671.67,314.79 672.79,315.56 671.67,317.08"/><polygon points="668.86,317.08 671.11,317.08 671.11,314.79 669.42,315.56"/><polygon points="660.99,306.36 664.36,304.97 666.61,306.36 664.36,307.71 662.11,307.27"/><polygon points="747.54,331.28 748.10,329.41 750.91,328.77 753.16,328.13 754.28,325.53 753.72,323.51 755.97,322.83 753.72,322.14 753.16,324.19 752.59,326.84 750.91,327.49 748.66,328.77 747.54,330.04"/><polygon points="754.28,321.44 754.84,318.57 754.84,315.56 754.28,315.56 754.28,318.57"/><polygon points="699.21,363.62 700.89,363.62 702.58,358.34 702.02,356.05 699.21,358.92 698.64,361.84"/><polygon points="719.44,343.92 720.56,345.05 720.00,345.90 719.32,345.34"/><polygon points="727.87,346.46 729.55,347.03 732.92,350.40 734.05,352.65 732.92,352.09 730.68,349.84 728.43,347.59"/><polygon points="735.73,348.71 736.30,350.96 739.67,351.52 740.79,348.71 740.23,345.90 739.11,346.46 736.86,348.15"/><polygon points="733.49,352.65 736.30,353.22 738.54,353.50 738.54,354.06 735.17,353.78 733.49,353.22"/><polygon points="741.35,352.09 741.92,349.84 744.16,348.71 743.60,349.84 742.48,350.40 743.04,352.09"/><polygon points="748.10,349.84 750.35,350.96 753.72,350.96 757.09,352.65 758.78,354.91 755.97,353.78 753.72,354.35 752.03,353.78 749.78,351.52"/><polygon points="741.92,339.05 743.04,339.05 744.16,341.93 745.29,345.34 744.16,345.90 743.04,343.64 741.92,341.36"/><polygon points="742.03,336.12 742.82,334.93 742.48,336.71"/><polygon points="738.54,361.84 738.54,364.22 739.11,369.14 740.79,369.78 744.16,368.52 746.97,367.89 749.78,368.52 752.03,369.78 753.72,371.71 756.53,372.36 758.78,371.06 760.46,367.27 760.46,364.22 758.21,361.25 756.53,360.08 754.28,355.48 753.72,358.34 751.47,357.77 750.91,356.05 748.10,356.05 746.97,357.77 743.60,358.92"/><polygon points="755.97,373.69 757.65,373.69 757.09,375.04 756.53,375.04"/><polygon points="771.70,369.78 773.39,371.06 774.51,371.71 772.83,373.69 772.26,372.36"/><polygon points="771.70,373.69 770.58,375.72 768.33,377.11 769.45,377.82 772.26,374.36"/><polygon points="681.22,291.54 685.72,290.27 688.53,291.54 684.59,293.96 682.35,293.96"/><polygon points="703.70,300.56 705.95,297.38 711.57,293.96 708.20,296.27 705.39,299.52"/><polygon points="626.71,336.71 629.52,336.12 632.33,337.89 630.64,337.89 627.27,336.71"/><polygon points="632.89,338.47 635.14,337.89 636.26,338.76 634.01,339.05"/><polygon points="641.32,320.02 643.01,317.83 644.69,320.73 643.01,321.09"/><polygon points="727.87,288.97 732.92,289.63 732.92,292.16 728.99,291.54"/><polygon points="751.47,295.13 755.97,295.13 758.78,296.27 754.28,297.38 751.47,296.27"/><polygon points="774.51,300.05 776.76,300.05 776.76,300.77 774.51,300.77"/><polygon points="618.28,295.13 623.90,293.96 628.39,296.27 623.90,297.92 618.28,297.38"/><polygon points="609.85,292.77 618.28,290.27 621.09,292.16 615.47,293.96 609.85,294.55"/><polygon points="617.15,298.46 620.53,297.38 621.65,300.05 618.28,300.56"/><polygon points="625.58,306.36 628.39,305.44 629.52,307.27 626.71,308.16"/><polygon points="747.26,329.72 748.38,329.72 748.10,331.28 747.54,330.97"/></g><circle cx="680.00" cy="323.80" r="4.1" fill="#5156be" fill-opacity="0.42"/><circle cx="680.00" cy="323.80" r="2.5" fill="#5156be"/><circle cx="638.60" cy="342.10" r="4.1" fill="#5156be" fill-opacity="0.42"/><circle cx="638.60" cy="342.10" r="2.5" fill="#5156be"/><circle cx="731.00" cy="348.10" r="4.1" fill="#5156be" fill-opacity="0.42"/><circle cx="731.00" cy="348.10" r="2.5" fill="#5156be"/></svg>
<div class="b" style="left:1402.08px;top:688.8px;width:14.4px;height:14.4px;background:#2b2b2e;border-radius:2px"></div>
<div class="b" style="left:1402.08px;top:709.2px;width:14.4px;height:14.4px;background:#2b2b2e;border-radius:2px"></div>
<svg class="b" style="left:1402.08px;top:688.8px;" width="14.4" height="34.8" viewBox="0 0 6.000 14.500"><g stroke="#fff" stroke-width="0.9"><line x1="1.7" y1="3" x2="4.3" y2="3"/><line x1="3" y1="1.7" x2="3" y2="4.3"/><line x1="1.7" y1="11.5" x2="4.3" y2="11.5"/></g></svg>
<div class="t" style="top:937.47px;left:1399.44px;font-size:13.99px;line-height:18.19px;color:#495057;letter-spacing:-1.990px;">USA</div>
<div class="t" style="top:937.47px;left:1870.51px;transform:translateX(-100%);font-size:13.99px;line-height:18.19px;color:#495057;letter-spacing:-0.535px;">75%</div>
<div class="b" style="left:1399.44px;top:965.16px;width:471.6px;height:6px;background:#eff0f6;border-radius:3px"></div>
<div class="b" style="left:1399.44px;top:965.16px;width:353.7px;height:6px;border-radius:3px;background-color:#2626b6;background-image:linear-gradient(45deg,rgba(255,255,255,.4) 25%,transparent 25%,transparent 50%,rgba(255,255,255,.4) 50%,rgba(255,255,255,.4) 75%,transparent 75%,transparent);background-size:6px 6px"></div>
<div class="t" style="top:988.59px;left:1399.44px;font-size:13.99px;line-height:18.19px;color:#495057;letter-spacing:-1.408px;">Russia</div>
<div class="t" style="top:988.59px;left:1870.51px;transform:translateX(-100%);font-size:13.99px;line-height:18.19px;color:#495057;letter-spacing:-0.535px;">55%</div>
<div class="b" style="left:1399.44px;top:1016.28px;width:471.6px;height:6px;background:#eff0f6;border-radius:3px"></div>
<div class="b" style="left:1399.44px;top:1016.28px;width:259.38px;height:6px;border-radius:3px;background-color:#2626b6;background-image:linear-gradient(45deg,rgba(255,255,255,.4) 25%,transparent 25%,transparent 50%,rgba(255,255,255,.4) 50%,rgba(255,255,255,.4) 75%,transparent 75%,transparent);background-size:6px 6px"></div>
<div class="t" style="top:1039.71px;left:1399.44px;font-size:13.99px;line-height:18.19px;color:#495057;letter-spacing:0.031px;">Australia</div>
<div class="t" style="top:1039.71px;left:1870.51px;transform:translateX(-100%);font-size:13.99px;line-height:18.19px;color:#495057;letter-spacing:-0.535px;">85%</div>
<div class="b" style="left:1399.44px;top:1067.4px;width:471.6px;height:6px;background:#eff0f6;border-radius:3px"></div>
<div class="b" style="left:1399.44px;top:1067.4px;width:400.86px;height:6px;border-radius:3px;background-color:#2626b6;background-image:linear-gradient(45deg,rgba(255,255,255,.4) 25%,transparent 25%,transparent 50%,rgba(255,255,255,.4) 50%,rgba(255,255,255,.4) 75%,transparent 75%,transparent);background-size:6px 6px"></div>
<div class="b" style="left:270px;top:1123.2px;width:528px;height:412.8px;background:#fff;border:1px solid #e9e9ef;border-radius:6px;box-sizing:border-box;border-radius:6px 6px 0 0;"></div>
<div class="b" style="left:270.96px;top:1183.44px;width:526.08px;height:1.08px;background:#e9e9ef"></div>
<div class="t" style="top:1145.37px;left:291px;font-size:15.00px;line-height:19.50px;color:#495057;font-weight:700;-webkit-text-stroke:.22px currentColor;letter-spacing:-0.024px;">Trading</div>
<div class="t" style="top:1144.83px;left:693px;font-size:13.99px;line-height:18.19px;color:#5156be;letter-spacing:0.203px;">Buy</div>
<div class="t" style="top:1144.83px;left:748.8px;font-size:13.99px;line-height:18.19px;color:#495057;letter-spacing:0.167px;">Sell</div>
<div class="b" style="left:676.2px;top:1182.6px;width:55.8px;height:2.04px;background:#6669c8"></div>
<div class="t" style="top:1204.83px;left:291px;font-size:13.99px;line-height:18.19px;color:#495057;font-weight:700;-webkit-text-stroke:.22px currentColor;letter-spacing:-0.674px;">Buy Coins</div>
<svg class="b" style="left:694.56px;top:1207.68px;" width="13.44" height="12.96" viewBox="0 0 5.600 5.400"><rect x="0.5" y="1.2" width="4.6" height="3.7" rx="0.6" fill="none" stroke="#5156be" stroke-width="0.8"/><line x1="0.5" y1="2.3" x2="5.1" y2="2.3" stroke="#5156be" stroke-width="0.7"/><path d="M0.9 1.2 L4.2 0.4 V1.2" fill="none" stroke="#5156be" stroke-width="0.6"/></svg>
<div class="t" style="top:1204.83px;left:715.92px;font-size:13.99px;line-height:18.19px;color:#495057;font-weight:700;-webkit-text-stroke:.22px currentColor;letter-spacing:0.565px;text-decoration:underline;">$4335.23</div>
<div class="t" style="top:1246.11px;left:291px;font-size:13.99px;line-height:18.19px;color:#495057;letter-spacing:0.253px;">Payment method :</div>
<div class="b" style="left:291px;top:1275px;width:487.8px;height:36.6px;background:#fff;border:1px solid #ced4da;border-radius:5px;box-sizing:border-box"></div>
<div class="t" style="top:1285.18px;left:304.32px;font-size:12.96px;line-height:16.85px;color:#495057;letter-spacing:0.477px;">Direct Bank Payment</div>
<svg class="b" style="left:751.2px;top:1286.88px" width="13.44" height="13.44" viewBox="0 0 24 24" fill="none" fill-opacity=".2" stroke="#2f343c" stroke-width="4" stroke-linecap="round" stroke-linejoin="round"><polyline points="6 9 12 15 18 9"/></svg>
<div class="t" style="top:1329.15px;left:291px;font-size:13.99px;line-height:18.19px;color:#495057;letter-spacing:0.259px;">Add Amount :</div>
<div class="b" style="left:291px;top:1357.8px;width:487.8px;height:37.2px;background:#fff;border:1px solid #ced4da;border-radius:5px;box-sizing:border-box"></div>
<div class="b" style="left:291px;top:1357.8px;width:75.6px;height:37.2px;background:#eeeef4;border:1px solid #ced4da;border-radius:5px 0 0 5px;box-sizing:border-box"></div>
<div class="b" style="left:453.6px;top:1357.8px;width:1.08px;height:37.2px;background:#ced4da"></div>
<div class="t" style="top:1367.66px;left:304.08px;font-size:13.44px;line-height:17.47px;color:#495057;letter-spacing:0.520px;">Amount</div>
<div class="t" style="top:1367.98px;left:379.2px;font-size:12.96px;line-height:16.85px;color:#495057;letter-spacing:-0.400px;">BTC</div>
<svg class="b" style="left:428.4px;top:1369.68px" width="13.44" height="13.44" viewBox="0 0 24 24" fill="none" fill-opacity=".2" stroke="#2f343c" stroke-width="4" stroke-linecap="round" stroke-linejoin="round"><polyline points="6 9 12 15 18 9"/></svg>
<div class="t" style="top:1367.66px;left:468px;font-size:13.44px;line-height:17.47px;color:#a9adb8;letter-spacing:0.771px;">0.00121255</div>
<div class="b" style="left:291px;top:1411.8px;width:487.8px;height:37.8px;background:#fff;border:1px solid #ced4da;border-radius:5px;box-sizing:border-box"></div>
<div class="b" style="left:291px;top:1411.8px;width:57px;height:37.8px;background:#eeeef4;border:1px solid #ced4da;border-radius:5px 0 0 5px;box-sizing:border-box"></div>
<div class="b" style="left:745.8px;top:1411.8px;width:33px;height:37.8px;background:#eeeef4;border:1px solid #ced4da;border-radius:0 5px 5px 0;box-sizing:border-box"></div>
<div class="t" style="top:1421.66px;left:304.08px;font-size:13.44px;line-height:17.47px;color:#495057;letter-spacing:0.116px;">Price</div>
<div class="t" style="top:1421.66px;left:360.72px;font-size:13.44px;line-height:17.47px;color:#a9adb8;letter-spacing:0.808px;">$58,245</div>
<div class="t" style="top:1421.66px;left:762.24px;transform:translateX(-50%);font-size:13.44px;line-height:17.47px;color:#495057;">$</div>
<div class="b" style="left:820.8px;top:1123.2px;width:528px;height:412.8px;background:#fff;border:1px solid #e9e9ef;border-radius:6px;box-sizing:border-box;border-radius:6px 6px 0 0;"></div>
<div class="b" style="left:821.76px;top:1183.44px;width:526.08px;height:1.08px;background:#e9e9ef"></div>
<div class="t" style="top:1145.37px;left:841.2px;font-size:15.00px;line-height:19.50px;color:#495057;font-weight:700;-webkit-text-stroke:.22px currentColor;letter-spacing:-0.151px;">Transactions</div>
<div class="t" style="top:1144.83px;left:1192.8px;font-size:13.99px;line-height:18.19px;color:#5156be;letter-spacing:0.416px;">All</div>
<div class="t" style="top:1144.83px;left:1242px;font-size:13.99px;line-height:18.19px;color:#495057;letter-spacing:0.363px;">Buy</div>
<div class="t" style="top:1144.83px;left:1297.8px;font-size:13.99px;line-height:18.19px;color:#495057;letter-spacing:0.347px;">Sell</div>
<div class="b" style="left:1177.2px;top:1182.6px;width:48.6px;height:2.04px;background:#6669c8"></div>
<svg class="b" style="left:848.4px;top:1225.8px;" width="21.6" height="21.6" viewBox="0 0 9.000 9.000"><circle cx="4.5" cy="4.5" r="3.8" fill="none" stroke="#2ab57d" stroke-width="0.9"/><path d="M4.5 3.5V5.4M3.6 4.7L4.5 5.600L5.4 4.7" fill="none" stroke="#2ab57d" stroke-width="0.8" stroke-linecap="round" stroke-linejoin="round"/></svg>
<div class="t" style="top:1216.71px;left:898.8px;font-size:13.99px;line-height:18.19px;color:#495057;font-weight:700;-webkit-text-stroke:.22px currentColor;letter-spacing:-0.725px;">Buy BTC</div>
<div class="t" style="top:1239.50px;left:898.8px;font-size:11.04px;line-height:14.35px;color:#74788d;letter-spacing:0.529px;">14 Mar, 2021</div>
<div class="t" style="top:1219.11px;left:1187.95px;transform:translateX(-100%);font-size:13.99px;line-height:18.19px;color:#495057;font-weight:700;-webkit-text-stroke:.22px currentColor;letter-spacing:-0.051px;">0.016 BTC</div>
<div class="t" style="top:1237.82px;left:1188.27px;transform:translateX(-100%);font-size:11.04px;line-height:14.35px;color:#82879a;letter-spacing:0.273px;">Coin Value</div>
<div class="t" style="top:1219.11px;left:1321.69px;transform:translateX(-100%);font-size:13.99px;line-height:18.19px;color:#495057;letter-spacing:0.489px;">$125.20</div>
<div class="t" style="top:1237.82px;left:1321.86px;transform:translateX(-100%);font-size:11.04px;line-height:14.35px;color:#82879a;letter-spacing:0.659px;">Amount</div>
<svg class="b" style="left:848.4px;top:1287.6px;" width="21.6" height="21.6" viewBox="0 0 9.000 9.000"><circle cx="4.5" cy="4.5" r="3.8" fill="none" stroke="#fd625e" stroke-width="0.9"/><path d="M4.5 5.5V3.600M3.600 4.3L4.5 3.4L5.4 4.3" fill="none" stroke="#fd625e" stroke-width="0.8" stroke-linecap="round" stroke-linejoin="round"/></svg>
<div class="t" style="top:1278.51px;left:898.8px;font-size:13.99px;line-height:18.19px;color:#495057;font-weight:700;-webkit-text-stroke:.22px currentColor;letter-spacing:-0.195px;">Sell ETH</div>
<div class="t" style="top:1301.30px;left:898.8px;font-size:11.04px;line-height:14.35px;color:#74788d;letter-spacing:0.529px;">15 Mar, 2021</div>
<div class="t" style="top:1280.91px;left:1188.11px;transform:translateX(-100%);font-size:13.99px;line-height:18.19px;color:#495057;font-weight:700;-webkit-text-stroke:.22px currentColor;letter-spacing:0.112px;">0.56 ETH</div>
<div class="t" style="top:1299.62px;left:1188.27px;transform:translateX(-100%);font-size:11.04px;line-height:14.35px;color:#82879a;letter-spacing:0.273px;">Coin Value</div>
<div class="t" style="top:1280.91px;left:1321.84px;transform:translateX(-100%);font-size:13.99px;line-height:18.19px;color:#495057;letter-spacing:0.637px;">$112.34</div>
<div class="t" style="top:1299.62px;left:1321.86px;transform:translateX(-100%);font-size:11.04px;line-height:14.35px;color:#82879a;letter-spacing:0.659px;">Amount</div>
<svg class="b" style="left:848.4px;top:1349.4px;" width="21.6" height="21.6" viewBox="0 0 9.000 9.000"><circle cx="4.5" cy="4.5" r="3.8" fill="none" stroke="#2ab57d" stroke-width="0.9"/><path d="M4.5 3.5V5.4M3.6 4.7L4.5 5.600L5.4 4.7" fill="none" stroke="#2ab57d" stroke-width="0.8" stroke-linecap="round" stroke-linejoin="round"/></svg>
<div class="t" style="top:1340.31px;left:898.8px;font-size:13.99px;line-height:18.19px;color:#495057;font-weight:700;-webkit-text-stroke:.22px currentColor;letter-spacing:-0.766px;">Buy LTC</div>
<div class="t" style="top:1363.10px;left:898.8px;font-size:11.04px;line-height:14.35px;color:#74788d;letter-spacing:0.529px;">16 Mar, 2021</div>
<div class="t" style="top:1342.71px;left:1188.04px;transform:translateX(-100%);font-size:13.99px;line-height:18.19px;color:#495057;font-weight:700;-webkit-text-stroke:.22px currentColor;letter-spacing:0.040px;">1.88 LTC</div>
<div class="t" style="top:1361.42px;left:1188.27px;transform:translateX(-100%);font-size:11.04px;line-height:14.35px;color:#82879a;letter-spacing:0.273px;">Coin Value</div>
<div class="t" style="top:1342.71px;left:1321.87px;transform:translateX(-100%);font-size:13.99px;line-height:18.19px;color:#495057;letter-spacing:0.667px;">$94.22</div>
<div class="t" style="top:1361.42px;left:1321.86px;transform:translateX(-100%);font-size:11.04px;line-height:14.35px;color:#82879a;letter-spacing:0.659px;">Amount</div>
<svg class="b" style="left:848.4px;top:1411.2px;" width="21.6" height="21.6" viewBox="0 0 9.000 9.000"><circle cx="4.5" cy="4.5" r="3.8" fill="none" stroke="#2ab57d" stroke-width="0.9"/><path d="M4.5 3.5V5.4M3.6 4.7L4.5 5.600L5.4 4.7" fill="none" stroke="#2ab57d" stroke-width="0.8" stroke-linecap="round" stroke-linejoin="round"/></svg>
<div class="t" style="top:1402.11px;left:898.8px;font-size:13.99px;line-height:18.19px;color:#495057;font-weight:700;-webkit-text-stroke:.22px currentColor;letter-spacing:-0.444px;">Buy ETH</div>
<div class="t" style="top:1424.90px;left:898.8px;font-size:11.04px;line-height:14.35px;color:#74788d;letter-spacing:0.529px;">17 Mar, 2021</div>
<div class="t" style="top:1404.51px;left:1188.11px;transform:translateX(-100%);font-size:13.99px;line-height:18.19px;color:#495057;font-weight:700;-webkit-text-stroke:.22px currentColor;letter-spacing:0.112px;">0.42 ETH</div>
<div class="t" style="top:1423.22px;left:1188.27px;transform:translateX(-100%);font-size:11.04px;line-height:14.35px;color:#82879a;letter-spacing:0.273px;">Coin Value</div>
<div class="t" style="top:1404.51px;left:1321.87px;transform:translateX(-100%);font-size:13.99px;line-height:18.19px;color:#495057;letter-spacing:0.667px;">$84.32</div>
<div class="t" style="top:1423.22px;left:1321.86px;transform:translateX(-100%);font-size:11.04px;line-height:14.35px;color:#82879a;letter-spacing:0.659px;">Amount</div>
<div class="b" style="left:1370.88px;top:1123.2px;width:528.12px;height:412.8px;background:#fff;border:1px solid #e9e9ef;border-radius:6px;box-sizing:border-box;border-radius:6px 6px 0 0;"></div>
<div class="b" style="left:1371.84px;top:1183.44px;width:526.2px;height:1.08px;background:#e9e9ef"></div>
<div class="t" style="top:1144.41px;left:1391.52px;font-size:15.00px;line-height:19.50px;color:#495057;font-weight:700;-webkit-text-stroke:.22px currentColor;letter-spacing:0.012px;">Recent Activity</div>
<div class="b" style="left:1779.6px;top:1140.96px;width:99.6px;height:26.88px;background:#fff;border:1px solid #ced4da;border-radius:5px;box-sizing:border-box"></div>
<div class="t" style="top:1146.76px;left:1789.92px;font-size:11.76px;line-height:15.29px;color:#495057;letter-spacing:-0.228px;">Today</div>
<svg class="b" style="left:1850.88px;top:1147.92px" width="13.44" height="13.44" viewBox="0 0 24 24" fill="none" fill-opacity=".2" stroke="#2f343c" stroke-width="4" stroke-linecap="round" stroke-linejoin="round"><polyline points="6 9 12 15 18 9"/></svg>
<svg class="b" style="left:1406.16px;top:1244.88px;" width="2.4" height="34.56" viewBox="0 0 1.000 14.400"><line x1="0.5" y1="0" x2="0.5" y2="14.4" stroke="#c4c8d2" stroke-width="0.8" stroke-dasharray="1.4 1.6"/></svg>
<div class="b" style="left:1388.64px;top:1205.52px;width:37.44px;height:37.44px;background:#ffeccb;border-radius:50%"></div>
<div class="t" style="top:1212.62px;left:1407.6px;transform:translateX(-50%);font-size:18.24px;line-height:23.71px;color:#ffb02e;font-weight:700;-webkit-text-stroke:.22px currentColor;">₿</div>
<div class="t" style="top:1203.15px;left:1448.4px;font-size:13.99px;line-height:18.19px;color:#495057;font-weight:700;-webkit-text-stroke:.22px currentColor;letter-spacing:0.569px;">24/05/2021, 18:24:56</div>
<div class="t" style="left:1448.4px;top:1225.34px;width:307.92px;overflow:hidden;text-overflow:ellipsis;font-size:13.01px;line-height:17.00px;color:#8f93a3;letter-spacing:0.55px">0xb77ad0099e21d4fca87fa4ca92dda1a40af9e05d7e</div>
<div class="t" style="top:1203.15px;left:1843.02px;transform:translateX(-100%);font-size:13.99px;line-height:18.19px;color:#495057;font-weight:700;-webkit-text-stroke:.22px currentColor;letter-spacing:-0.183px;">+0.5 BTC</div>
<div class="t" style="top:1224.75px;left:1843.17px;transform:translateX(-100%);font-size:13.99px;line-height:18.19px;color:#74788d;letter-spacing:-0.026px;">$178.53</div>
<svg class="b" style="left:1868.16px;top:1215.6px;" width="5.76" height="16.32" viewBox="0 0 2.400 6.800"><g fill="#3b4050"><circle cx="1.2" cy="1" r="0.62"/><circle cx="1.2" cy="3.3" r="0.62"/><circle cx="1.2" cy="5.600" r="0.62"/></g></svg>
<svg class="b" style="left:1406.16px;top:1319.64px;" width="2.4" height="34.56" viewBox="0 0 1.000 14.400"><line x1="0.5" y1="0" x2="0.5" y2="14.4" stroke="#c4c8d2" stroke-width="0.8" stroke-dasharray="1.4 1.6"/></svg>
<div class="b" style="left:1388.64px;top:1280.28px;width:37.44px;height:37.44px;background:#dcddf2;border-radius:50%"></div>
<svg class="b" style="left:1397.76px;top:1287px;" width="19.2" height="24" viewBox="0 0 8.000 10.000"><polygon points="4,0.6 7,5 4,6.8 1,5" fill="#5156be"/><polygon points="4,7.600 7,5.800 4,9.600 1,5.800" fill="#5156be"/></svg>
<div class="t" style="top:1277.91px;left:1448.4px;font-size:13.99px;line-height:18.19px;color:#495057;font-weight:700;-webkit-text-stroke:.22px currentColor;letter-spacing:0.569px;">24/05/2021, 18:24:56</div>
<div class="t" style="left:1448.4px;top:1300.10px;width:307.92px;overflow:hidden;text-overflow:ellipsis;font-size:13.01px;line-height:17.00px;color:#8f93a3;letter-spacing:0.55px">0xb77ad0099e21d4fca87fa4ca92dda1a40af9e05d7e</div>
<div class="t" style="top:1277.91px;left:1843.45px;transform:translateX(-100%);font-size:13.99px;line-height:18.19px;color:#495057;font-weight:700;-webkit-text-stroke:.22px currentColor;letter-spacing:0.248px;">-20.5 ETH</div>
<div class="t" style="top:1299.51px;left:1843.16px;transform:translateX(-100%);font-size:13.99px;line-height:18.19px;color:#74788d;letter-spacing:-0.035px;">$3541.45</div>
<svg class="b" style="left:1868.16px;top:1290.36px;" width="5.76" height="16.32" viewBox="0 0 2.400 6.800"><g fill="#3b4050"><circle cx="1.2" cy="1" r="0.62"/><circle cx="1.2" cy="3.3" r="0.62"/><circle cx="1.2" cy="5.600" r="0.62"/></g></svg>
<svg class="b" style="left:1406.16px;top:1394.4px;" width="2.4" height="34.56" viewBox="0 0 1.000 14.400"><line x1="0.5" y1="0" x2="0.5" y2="14.4" stroke="#c4c8d2" stroke-width="0.8" stroke-dasharray="1.4 1.6"/></svg>
<div class="b" style="left:1388.64px;top:1355.04px;width:37.44px;height:37.44px;background:#ffeccb;border-radius:50%"></div>
<div class="t" style="top:1362.14px;left:1407.6px;transform:translateX(-50%);font-size:18.24px;line-height:23.71px;color:#ffb02e;font-weight:700;-webkit-text-stroke:.22px currentColor;">₿</div>
<div class="t" style="top:1352.67px;left:1448.4px;font-size:13.99px;line-height:18.19px;color:#495057;font-weight:700;-webkit-text-stroke:.22px currentColor;letter-spacing:0.569px;">24/05/2021, 18:24:56</div>
<div class="t" style="left:1448.4px;top:1374.86px;width:307.92px;overflow:hidden;text-overflow:ellipsis;font-size:13.01px;line-height:17.00px;color:#8f93a3;letter-spacing:0.55px">0xb77ad0099e21d4fca87fa4ca92dda1a40af9e05d7e</div>
<div class="t" style="top:1352.67px;left:1843.02px;transform:translateX(-100%);font-size:13.99px;line-height:18.19px;color:#495057;font-weight:700;-webkit-text-stroke:.22px currentColor;letter-spacing:-0.183px;">+0.5 BTC</div>
<div class="t" style="top:1374.27px;left:1843.16px;transform:translateX(-100%);font-size:13.99px;line-height:18.19px;color:#74788d;letter-spacing:-0.035px;">$5791.45</div>
<svg class="b" style="left:1868.16px;top:1365.12px;" width="5.76" height="16.32" viewBox="0 0 2.400 6.800"><g fill="#3b4050"><circle cx="1.2" cy="1" r="0.62"/><circle cx="1.2" cy="3.3" r="0.62"/><circle cx="1.2" cy="5.600" r="0.62"/></g></svg>
<svg class="b" style="left:1406.16px;top:1469.16px;" width="2.4" height="34.56" viewBox="0 0 1.000 14.400"><line x1="0.5" y1="0" x2="0.5" y2="14.4" stroke="#c4c8d2" stroke-width="0.8" stroke-dasharray="1.4 1.6"/></svg>
<div class="b" style="left:1388.64px;top:1429.8px;width:37.44px;height:37.44px;background:#dcddf2;border-radius:50%"></div>
<svg class="b" style="left:1397.76px;top:1436.52px;" width="19.2" height="24" viewBox="0 0 8.000 10.000"><polygon points="4,0.6 7,5 4,6.8 1,5" fill="#5156be"/><polygon points="4,7.600 7,5.800 4,9.600 1,5.800" fill="#5156be"/></svg>
<div class="t" style="top:1427.43px;left:1448.4px;font-size:13.99px;line-height:18.19px;color:#495057;font-weight:700;-webkit-text-stroke:.22px currentColor;letter-spacing:0.569px;">24/05/2021, 18:24:56</div>
<div class="t" style="left:1448.4px;top:1449.62px;width:307.92px;overflow:hidden;text-overflow:ellipsis;font-size:13.01px;line-height:17.00px;color:#8f93a3;letter-spacing:0.55px">0xb77ad0099e21d4fca87fa4ca92dda1a40af9e05d7e</div>
<div class="t" style="top:1427.43px;left:1843.48px;transform:translateX(-100%);font-size:13.99px;line-height:18.19px;color:#495057;font-weight:700;-webkit-text-stroke:.22px currentColor;letter-spacing:0.280px;">-1.5 LTC</div>
<div class="t" style="top:1449.03px;left:1843.16px;transform:translateX(-100%);font-size:13.99px;line-height:18.19px;color:#74788d;letter-spacing:-0.035px;">$5791.45</div>
<svg class="b" style="left:1868.16px;top:1439.88px;" width="5.76" height="16.32" viewBox="0 0 2.400 6.800"><g fill="#3b4050"><circle cx="1.2" cy="1" r="0.62"/><circle cx="1.2" cy="3.3" r="0.62"/><circle cx="1.2" cy="5.600" r="0.62"/></g></svg>
</div></body></html>
